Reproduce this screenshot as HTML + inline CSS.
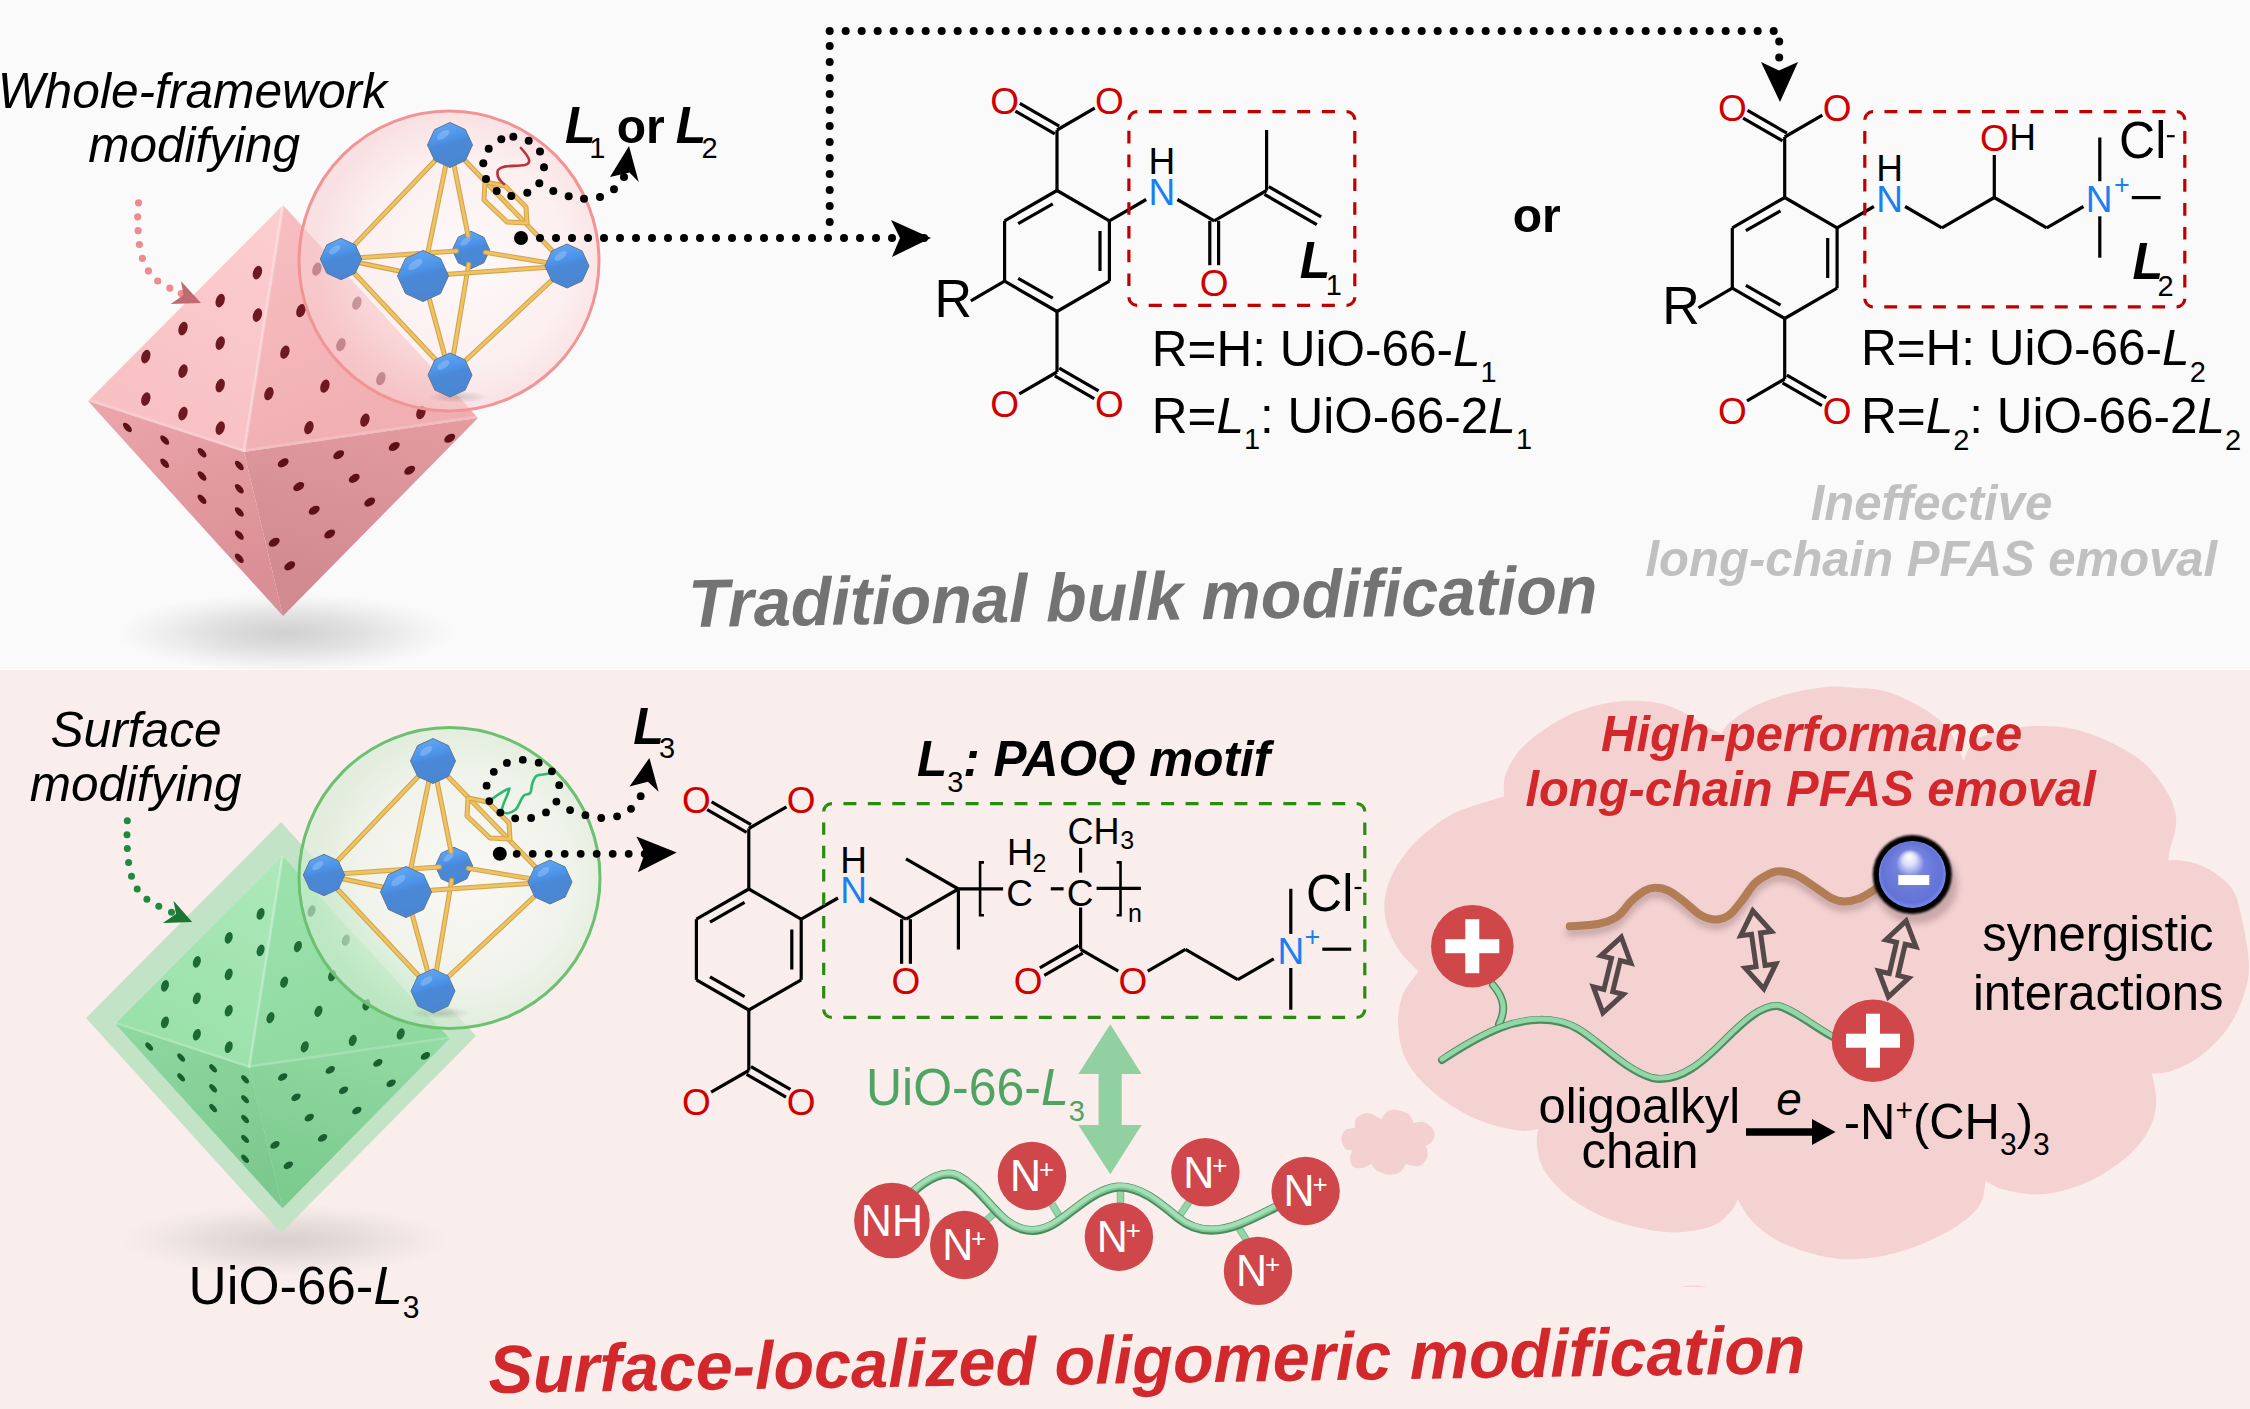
<!DOCTYPE html><html><head><meta charset="utf-8"><style>html,body{margin:0;padding:0;background:#fafafa;overflow:hidden;width:2250px;height:1409px;}svg{display:block;} text{font-family:"Liberation Sans", sans-serif;}</style></head><body>
<svg width="2250" height="1409" viewBox="0 0 2250 1409">
<defs>
<linearGradient id="ball" x1="0" y1="0" x2="0.25" y2="1"><stop offset="0" stop-color="#6aaaf6"/><stop offset="0.45" stop-color="#4b93e8"/><stop offset="0.55" stop-color="#4a89d8"/><stop offset="1" stop-color="#4a86d2"/></linearGradient>
<radialGradient id="shadow" cx="0.5" cy="0.5" r="0.5"><stop offset="0" stop-color="#000" stop-opacity="0.15"/><stop offset="0.6" stop-color="#000" stop-opacity="0.07"/><stop offset="1" stop-color="#000" stop-opacity="0"/></radialGradient>
<radialGradient id="pinkcirc" cx="0.55" cy="0.5" r="0.5"><stop offset="0" stop-color="#fffafa" stop-opacity="0.75"/><stop offset="0.7" stop-color="#fde9ea" stop-opacity="0.62"/><stop offset="1" stop-color="#f8d0d3" stop-opacity="0.6"/></radialGradient>
<radialGradient id="greencirc" cx="0.55" cy="0.5" r="0.5"><stop offset="0" stop-color="#fbfbf8" stop-opacity="0.78"/><stop offset="0.7" stop-color="#ecf6ea" stop-opacity="0.66"/><stop offset="1" stop-color="#d4edd4" stop-opacity="0.62"/></radialGradient>
<radialGradient id="minusball" cx="0.5" cy="0.5" r="0.5" fx="0.45" fy="0.22"><stop offset="0" stop-color="#ffffff"/><stop offset="0.18" stop-color="#dfe3fb"/><stop offset="0.42" stop-color="#7483de"/><stop offset="0.9" stop-color="#6272d6"/><stop offset="1" stop-color="#7a8cf0"/></radialGradient>
<filter id="blur4" x="-20%" y="-50%" width="140%" height="200%"><feGaussianBlur stdDeviation="6"/></filter>
<filter id="blur2" x="-10%" y="-50%" width="120%" height="200%"><feGaussianBlur stdDeviation="3"/></filter>
<filter id="blur1" x="-10%" y="-10%" width="120%" height="120%"><feGaussianBlur stdDeviation="1.2"/></filter>
<linearGradient id="pTLF" x1="0.8" y1="0" x2="0.3" y2="1"><stop offset="0" stop-color="#fccdcf"/><stop offset="1" stop-color="#f7bfc2"/></linearGradient>
<linearGradient id="pTFR" x1="0.2" y1="0" x2="0.6" y2="1"><stop offset="0" stop-color="#f7bec1"/><stop offset="1" stop-color="#f0adb1"/></linearGradient>
<linearGradient id="pLFB" x1="0" y1="0" x2="0.3" y2="1"><stop offset="0" stop-color="#eca6ab"/><stop offset="1" stop-color="#d98f95"/></linearGradient>
<linearGradient id="pFRB" x1="1" y1="0" x2="0.7" y2="1"><stop offset="0" stop-color="#e49ca1"/><stop offset="1" stop-color="#d08a90"/></linearGradient>
<linearGradient id="gTLF" x1="0.8" y1="0" x2="0.3" y2="1"><stop offset="0" stop-color="#ace8b9"/><stop offset="1" stop-color="#98e0a8"/></linearGradient>
<linearGradient id="gTFR" x1="0.2" y1="0" x2="0.6" y2="1"><stop offset="0" stop-color="#9de2ad"/><stop offset="1" stop-color="#8ed9a0"/></linearGradient>
<linearGradient id="gLFB" x1="0" y1="0" x2="0.3" y2="1"><stop offset="0" stop-color="#8fd9a1"/><stop offset="1" stop-color="#7cc98f"/></linearGradient>
<linearGradient id="gFRB" x1="1" y1="0" x2="0.7" y2="1"><stop offset="0" stop-color="#94dba5"/><stop offset="1" stop-color="#7ccb8f"/></linearGradient>
<radialGradient id="shadow2" cx="0.5" cy="0.5" r="0.5"><stop offset="0" stop-color="#000" stop-opacity="0.17"/><stop offset="0.45" stop-color="#000" stop-opacity="0.10"/><stop offset="0.8" stop-color="#000" stop-opacity="0.03"/><stop offset="1" stop-color="#000" stop-opacity="0"/></radialGradient>
</defs>
<rect x="0" y="0" width="2250" height="669" fill="#fafafa"/>
<rect x="0" y="669" width="2250" height="2" fill="#ffffff"/>
<rect x="0" y="670" width="2250" height="739" fill="#f9eeec"/>
<ellipse cx="285" cy="633" rx="170" ry="40" fill="url(#shadow2)"/>
<polygon points="283.0,205.0 88.0,401.0 244.0,452.0" fill="url(#pTLF)" />
<polygon points="283.0,205.0 244.0,452.0 478.0,418.0" fill="url(#pTFR)" />
<polygon points="88.0,401.0 244.0,452.0 283.0,616.0" fill="url(#pLFB)" />
<polygon points="244.0,452.0 478.0,418.0 283.0,616.0" fill="url(#pFRB)" />
<line x1="283.0" y1="205.0" x2="244.0" y2="452.0" stroke="#ffffff" stroke-width="3.0" opacity="0.3"/>
<line x1="88.0" y1="399.5" x2="244.0" y2="450.5" stroke="#ffffff" stroke-width="2.5" opacity="0.18"/>
<line x1="244.0" y1="450.5" x2="478.0" y2="416.5" stroke="#ffffff" stroke-width="2.5" opacity="0.18"/>
<ellipse cx="145.8" cy="356.6" rx="4.4" ry="7.0" fill="#6e1822" transform="rotate(18.0 145.8 356.6)"/>
<ellipse cx="183.0" cy="328.6" rx="4.4" ry="7.0" fill="#6e1822" transform="rotate(18.0 183.0 328.6)"/>
<ellipse cx="220.2" cy="300.6" rx="4.4" ry="7.0" fill="#6e1822" transform="rotate(18.0 220.2 300.6)"/>
<ellipse cx="257.4" cy="272.6" rx="4.4" ry="7.0" fill="#6e1822" transform="rotate(18.0 257.4 272.6)"/>
<ellipse cx="145.8" cy="399.1" rx="4.4" ry="7.0" fill="#6e1822" transform="rotate(18.0 145.8 399.1)"/>
<ellipse cx="183.0" cy="371.1" rx="4.4" ry="7.0" fill="#6e1822" transform="rotate(18.0 183.0 371.1)"/>
<ellipse cx="220.2" cy="343.1" rx="4.4" ry="7.0" fill="#6e1822" transform="rotate(18.0 220.2 343.1)"/>
<ellipse cx="257.4" cy="315.1" rx="4.4" ry="7.0" fill="#6e1822" transform="rotate(18.0 257.4 315.1)"/>
<ellipse cx="183.0" cy="413.6" rx="4.4" ry="7.0" fill="#6e1822" transform="rotate(18.0 183.0 413.6)"/>
<ellipse cx="220.2" cy="385.6" rx="4.4" ry="7.0" fill="#6e1822" transform="rotate(18.0 220.2 385.6)"/>
<ellipse cx="220.2" cy="428.1" rx="4.4" ry="7.0" fill="#6e1822" transform="rotate(18.0 220.2 428.1)"/>
<ellipse cx="316.9" cy="269.2" rx="4.4" ry="6.8" fill="#6e1822" transform="rotate(20.0 316.9 269.2)"/>
<ellipse cx="356.9" cy="303.2" rx="4.4" ry="6.8" fill="#6e1822" transform="rotate(20.0 356.9 303.2)"/>
<ellipse cx="300.9" cy="310.7" rx="4.4" ry="6.8" fill="#6e1822" transform="rotate(20.0 300.9 310.7)"/>
<ellipse cx="340.9" cy="344.7" rx="4.4" ry="6.8" fill="#6e1822" transform="rotate(20.0 340.9 344.7)"/>
<ellipse cx="380.9" cy="378.7" rx="4.4" ry="6.8" fill="#6e1822" transform="rotate(20.0 380.9 378.7)"/>
<ellipse cx="420.9" cy="412.7" rx="4.4" ry="6.8" fill="#6e1822" transform="rotate(20.0 420.9 412.7)"/>
<ellipse cx="284.9" cy="352.2" rx="4.4" ry="6.8" fill="#6e1822" transform="rotate(20.0 284.9 352.2)"/>
<ellipse cx="324.9" cy="386.2" rx="4.4" ry="6.8" fill="#6e1822" transform="rotate(20.0 324.9 386.2)"/>
<ellipse cx="364.9" cy="420.2" rx="4.4" ry="6.8" fill="#6e1822" transform="rotate(20.0 364.9 420.2)"/>
<ellipse cx="268.9" cy="393.7" rx="4.4" ry="6.8" fill="#6e1822" transform="rotate(20.0 268.9 393.7)"/>
<ellipse cx="308.9" cy="427.7" rx="4.4" ry="6.8" fill="#6e1822" transform="rotate(20.0 308.9 427.7)"/>
<ellipse cx="127.4" cy="427.4" rx="5.8" ry="3.0" fill="#5e1019" transform="rotate(48.0 127.4 427.4)"/>
<ellipse cx="164.7" cy="440.1" rx="5.8" ry="3.0" fill="#5e1019" transform="rotate(48.0 164.7 440.1)"/>
<ellipse cx="202.0" cy="452.8" rx="5.8" ry="3.0" fill="#5e1019" transform="rotate(48.0 202.0 452.8)"/>
<ellipse cx="239.3" cy="465.5" rx="5.8" ry="3.0" fill="#5e1019" transform="rotate(48.0 239.3 465.5)"/>
<ellipse cx="164.7" cy="463.3" rx="5.8" ry="3.0" fill="#5e1019" transform="rotate(48.0 164.7 463.3)"/>
<ellipse cx="202.0" cy="476.0" rx="5.8" ry="3.0" fill="#5e1019" transform="rotate(48.0 202.0 476.0)"/>
<ellipse cx="239.3" cy="488.7" rx="5.8" ry="3.0" fill="#5e1019" transform="rotate(48.0 239.3 488.7)"/>
<ellipse cx="202.0" cy="499.2" rx="5.8" ry="3.0" fill="#5e1019" transform="rotate(48.0 202.0 499.2)"/>
<ellipse cx="239.3" cy="511.9" rx="5.8" ry="3.0" fill="#5e1019" transform="rotate(48.0 239.3 511.9)"/>
<ellipse cx="239.3" cy="535.1" rx="5.8" ry="3.0" fill="#5e1019" transform="rotate(48.0 239.3 535.1)"/>
<ellipse cx="239.3" cy="558.3" rx="5.8" ry="3.0" fill="#5e1019" transform="rotate(48.0 239.3 558.3)"/>
<ellipse cx="283.2" cy="462.9" rx="6.0" ry="3.8" fill="#5e1019" transform="rotate(-32.0 283.2 462.9)"/>
<ellipse cx="338.7" cy="454.7" rx="6.0" ry="3.8" fill="#5e1019" transform="rotate(-32.0 338.7 454.7)"/>
<ellipse cx="394.2" cy="446.5" rx="6.0" ry="3.8" fill="#5e1019" transform="rotate(-32.0 394.2 446.5)"/>
<ellipse cx="449.7" cy="438.3" rx="6.0" ry="3.8" fill="#5e1019" transform="rotate(-32.0 449.7 438.3)"/>
<ellipse cx="298.7" cy="486.6" rx="6.0" ry="3.8" fill="#5e1019" transform="rotate(-32.0 298.7 486.6)"/>
<ellipse cx="354.2" cy="478.4" rx="6.0" ry="3.8" fill="#5e1019" transform="rotate(-32.0 354.2 478.4)"/>
<ellipse cx="409.7" cy="470.2" rx="6.0" ry="3.8" fill="#5e1019" transform="rotate(-32.0 409.7 470.2)"/>
<ellipse cx="314.2" cy="510.3" rx="6.0" ry="3.8" fill="#5e1019" transform="rotate(-32.0 314.2 510.3)"/>
<ellipse cx="369.7" cy="502.1" rx="6.0" ry="3.8" fill="#5e1019" transform="rotate(-32.0 369.7 502.1)"/>
<ellipse cx="274.2" cy="542.2" rx="6.0" ry="3.8" fill="#5e1019" transform="rotate(-32.0 274.2 542.2)"/>
<ellipse cx="329.7" cy="534.0" rx="6.0" ry="3.8" fill="#5e1019" transform="rotate(-32.0 329.7 534.0)"/>
<ellipse cx="289.7" cy="565.9" rx="6.0" ry="3.8" fill="#5e1019" transform="rotate(-32.0 289.7 565.9)"/>
<circle cx="138.5" cy="202.8" r="3.6" fill="#ef8a90" />
<circle cx="137.7" cy="216.8" r="3.6" fill="#ef8a90" />
<circle cx="138.1" cy="230.7" r="3.6" fill="#ef8a90" />
<circle cx="139.4" cy="244.5" r="3.6" fill="#ef8a90" />
<circle cx="142.4" cy="258.3" r="3.6" fill="#ef8a90" />
<circle cx="148.4" cy="270.9" r="3.6" fill="#ef8a90" />
<circle cx="157.7" cy="281.0" r="3.6" fill="#ef8a90" />
<circle cx="169.8" cy="288.1" r="3.6" fill="#ef8a90" />
<circle cx="181.3" cy="293.5" r="3.6" fill="#ef8a90" />
<polygon points="200.9,302.9 180.9,281.1 183.5,295.0 170.7,304.1" fill="#c06a72" />
<circle cx="449.0" cy="261.0" r="150.0" fill="url(#pinkcirc)" stroke="#f29496" stroke-width="3"/>
<ellipse cx="458.0" cy="397.0" rx="30" ry="6" fill="url(#shadow)"/>
<polygon points="489.7,250.0 483.8,262.8 471.0,268.7 458.2,262.8 452.3,250.0 458.2,237.2 471.0,231.3 483.8,237.2" fill="url(#ball)" stroke="#5d7896" stroke-width="1"/>
<ellipse cx="465.4" cy="241.6" rx="6.0" ry="2.8" fill="#bfe0ff" opacity="0.3" transform="rotate(-35 465.4 241.6)"/>
<line x1="450.0" y1="145.0" x2="468.1" y2="235.7" stroke="#d2a54c" stroke-width="5.0" stroke-linecap="round"/>
<line x1="450.0" y1="145.0" x2="468.1" y2="235.7" stroke="#efc263" stroke-width="2.8" stroke-linecap="round"/>
<line x1="341.0" y1="259.0" x2="456.4" y2="251.0" stroke="#d2a54c" stroke-width="5.0" stroke-linecap="round"/>
<line x1="341.0" y1="259.0" x2="456.4" y2="251.0" stroke="#efc263" stroke-width="2.8" stroke-linecap="round"/>
<line x1="485.4" y1="252.4" x2="567.0" y2="266.0" stroke="#d2a54c" stroke-width="5.0" stroke-linecap="round"/>
<line x1="485.4" y1="252.4" x2="567.0" y2="266.0" stroke="#efc263" stroke-width="2.8" stroke-linecap="round"/>
<line x1="450.0" y1="375.0" x2="468.6" y2="264.4" stroke="#d2a54c" stroke-width="5.0" stroke-linecap="round"/>
<line x1="450.0" y1="375.0" x2="468.6" y2="264.4" stroke="#efc263" stroke-width="2.8" stroke-linecap="round"/>
<line x1="450.0" y1="145.0" x2="341.0" y2="259.0" stroke="#d2a54c" stroke-width="5.0" stroke-linecap="round"/>
<line x1="450.0" y1="145.0" x2="341.0" y2="259.0" stroke="#efc263" stroke-width="2.8" stroke-linecap="round"/>
<line x1="450.0" y1="145.0" x2="423.0" y2="276.0" stroke="#d2a54c" stroke-width="5.0" stroke-linecap="round"/>
<line x1="450.0" y1="145.0" x2="423.0" y2="276.0" stroke="#efc263" stroke-width="2.8" stroke-linecap="round"/>
<line x1="450.0" y1="145.0" x2="567.0" y2="266.0" stroke="#d2a54c" stroke-width="5.0" stroke-linecap="round"/>
<line x1="450.0" y1="145.0" x2="567.0" y2="266.0" stroke="#efc263" stroke-width="2.8" stroke-linecap="round"/>
<line x1="341.0" y1="259.0" x2="423.0" y2="276.0" stroke="#d2a54c" stroke-width="5.0" stroke-linecap="round"/>
<line x1="341.0" y1="259.0" x2="423.0" y2="276.0" stroke="#efc263" stroke-width="2.8" stroke-linecap="round"/>
<line x1="423.0" y1="276.0" x2="567.0" y2="266.0" stroke="#d2a54c" stroke-width="5.0" stroke-linecap="round"/>
<line x1="423.0" y1="276.0" x2="567.0" y2="266.0" stroke="#efc263" stroke-width="2.8" stroke-linecap="round"/>
<line x1="450.0" y1="375.0" x2="341.0" y2="259.0" stroke="#d2a54c" stroke-width="5.0" stroke-linecap="round"/>
<line x1="450.0" y1="375.0" x2="341.0" y2="259.0" stroke="#efc263" stroke-width="2.8" stroke-linecap="round"/>
<line x1="450.0" y1="375.0" x2="423.0" y2="276.0" stroke="#d2a54c" stroke-width="5.0" stroke-linecap="round"/>
<line x1="450.0" y1="375.0" x2="423.0" y2="276.0" stroke="#efc263" stroke-width="2.8" stroke-linecap="round"/>
<line x1="450.0" y1="375.0" x2="567.0" y2="266.0" stroke="#d2a54c" stroke-width="5.0" stroke-linecap="round"/>
<line x1="450.0" y1="375.0" x2="567.0" y2="266.0" stroke="#efc263" stroke-width="2.8" stroke-linecap="round"/>
<path d="M485.0,182.0 L505.0,186.0 L526.0,207.0 L527.0,223.0 L507.0,222.0 L484.0,200.0 Z" fill="none" stroke="#d2a54c" stroke-width="5.0" stroke-linejoin="round"/>
<path d="M485.0,182.0 L505.0,186.0 L526.0,207.0 L527.0,223.0 L507.0,222.0 L484.0,200.0 Z" fill="none" stroke="#efc263" stroke-width="2.8" stroke-linejoin="round"/>
<polygon points="361.7,259.0 355.2,273.2 341.0,279.7 326.8,273.2 320.3,259.0 326.8,244.8 341.0,238.3 355.2,244.8" fill="url(#ball)" stroke="#5d7896" stroke-width="1"/>
<ellipse cx="334.8" cy="249.7" rx="6.6" ry="3.1" fill="#bfe0ff" opacity="0.3" transform="rotate(-35 334.8 249.7)"/>
<polygon points="472.5,145.0 465.4,160.4 450.0,167.5 434.6,160.4 427.5,145.0 434.6,129.6 450.0,122.5 465.4,129.6" fill="url(#ball)" stroke="#5d7896" stroke-width="1"/>
<ellipse cx="443.2" cy="134.9" rx="7.2" ry="3.4" fill="#bfe0ff" opacity="0.3" transform="rotate(-35 443.2 134.9)"/>
<polygon points="589.0,266.0 582.1,281.1 567.0,288.0 551.9,281.1 545.0,266.0 551.9,250.9 567.0,244.0 582.1,250.9" fill="url(#ball)" stroke="#5d7896" stroke-width="1"/>
<ellipse cx="560.4" cy="256.1" rx="7.0" ry="3.3" fill="#bfe0ff" opacity="0.3" transform="rotate(-35 560.4 256.1)"/>
<polygon points="472.0,375.0 465.1,390.1 450.0,397.0 434.9,390.1 428.0,375.0 434.9,359.9 450.0,353.0 465.1,359.9" fill="url(#ball)" stroke="#5d7896" stroke-width="1"/>
<ellipse cx="443.4" cy="365.1" rx="7.0" ry="3.3" fill="#bfe0ff" opacity="0.3" transform="rotate(-35 443.4 365.1)"/>
<polygon points="448.5,276.0 440.5,293.5 423.0,301.5 405.5,293.5 397.5,276.0 405.5,258.5 423.0,250.5 440.5,258.5" fill="url(#ball)" stroke="#5d7896" stroke-width="1"/>
<ellipse cx="415.4" cy="264.5" rx="8.2" ry="3.8" fill="#bfe0ff" opacity="0.3" transform="rotate(-35 415.4 264.5)"/>
<path d="M520.9,148 C530,158 532,163 525,165 C515,167 503,164 498,170 C496,176 500,181 504,184" fill="none" stroke="#b8343c" stroke-width="2.6" stroke-linecap="round"/>
<circle cx="501.3" cy="139.3" r="4.0" fill="#000" />
<circle cx="513.3" cy="136.7" r="4.0" fill="#000" />
<circle cx="528.7" cy="140.7" r="4.0" fill="#000" />
<circle cx="540.0" cy="151.6" r="4.0" fill="#000" />
<circle cx="544.0" cy="167.3" r="4.0" fill="#000" />
<circle cx="539.3" cy="183.3" r="4.0" fill="#000" />
<circle cx="527.3" cy="192.7" r="4.0" fill="#000" />
<circle cx="511.3" cy="196.0" r="4.0" fill="#000" />
<circle cx="496.7" cy="190.9" r="4.0" fill="#000" />
<circle cx="486.0" cy="179.1" r="4.0" fill="#000" />
<circle cx="483.3" cy="163.3" r="4.0" fill="#000" />
<circle cx="488.7" cy="148.7" r="4.0" fill="#000" />
<circle cx="553.3" cy="190.9" r="4.0" fill="#000" />
<circle cx="568.7" cy="196.3" r="4.0" fill="#000" />
<circle cx="584.0" cy="198.7" r="4.0" fill="#000" />
<circle cx="600.0" cy="197.0" r="4.0" fill="#000" />
<circle cx="614.0" cy="189.3" r="4.0" fill="#000" />
<circle cx="624.0" cy="177.0" r="4.0" fill="#000" />
<polygon points="629.0,146.0 638.7,182.0 629.5,172.5 610.0,177.0" fill="#000" />
<circle cx="521.0" cy="238.0" r="7.0" fill="#000" />
<circle cx="540.0" cy="238.0" r="4.0" fill="#000" />
<circle cx="556.0" cy="238.0" r="4.0" fill="#000" />
<circle cx="572.0" cy="238.0" r="4.0" fill="#000" />
<circle cx="588.0" cy="238.0" r="4.0" fill="#000" />
<circle cx="604.0" cy="238.0" r="4.0" fill="#000" />
<circle cx="620.0" cy="238.0" r="4.0" fill="#000" />
<circle cx="636.0" cy="238.0" r="4.0" fill="#000" />
<circle cx="652.0" cy="238.0" r="4.0" fill="#000" />
<circle cx="668.0" cy="238.0" r="4.0" fill="#000" />
<circle cx="684.0" cy="238.0" r="4.0" fill="#000" />
<circle cx="700.0" cy="238.0" r="4.0" fill="#000" />
<circle cx="716.0" cy="238.0" r="4.0" fill="#000" />
<circle cx="732.0" cy="238.0" r="4.0" fill="#000" />
<circle cx="748.0" cy="238.0" r="4.0" fill="#000" />
<circle cx="764.0" cy="238.0" r="4.0" fill="#000" />
<circle cx="780.0" cy="238.0" r="4.0" fill="#000" />
<circle cx="796.0" cy="238.0" r="4.0" fill="#000" />
<circle cx="812.0" cy="238.0" r="4.0" fill="#000" />
<circle cx="828.0" cy="238.0" r="4.0" fill="#000" />
<circle cx="844.0" cy="238.0" r="4.0" fill="#000" />
<circle cx="860.0" cy="238.0" r="4.0" fill="#000" />
<circle cx="876.0" cy="238.0" r="4.0" fill="#000" />
<circle cx="892.0" cy="238.0" r="4.0" fill="#000" />
<circle cx="908.0" cy="238.0" r="4.0" fill="#000" />
<circle cx="924.0" cy="238.0" r="4.0" fill="#000" />
<circle cx="829.7" cy="222.0" r="4.0" fill="#000" />
<circle cx="829.7" cy="206.0" r="4.0" fill="#000" />
<circle cx="829.7" cy="190.0" r="4.0" fill="#000" />
<circle cx="829.7" cy="174.0" r="4.0" fill="#000" />
<circle cx="829.7" cy="158.0" r="4.0" fill="#000" />
<circle cx="829.7" cy="142.0" r="4.0" fill="#000" />
<circle cx="829.7" cy="126.0" r="4.0" fill="#000" />
<circle cx="829.7" cy="110.0" r="4.0" fill="#000" />
<circle cx="829.7" cy="94.0" r="4.0" fill="#000" />
<circle cx="829.7" cy="78.0" r="4.0" fill="#000" />
<circle cx="829.7" cy="62.0" r="4.0" fill="#000" />
<circle cx="829.7" cy="46.0" r="4.0" fill="#000" />
<circle cx="829.7" cy="31.0" r="4.0" fill="#000" />
<circle cx="845.7" cy="31.0" r="4.0" fill="#000" />
<circle cx="861.7" cy="31.0" r="4.0" fill="#000" />
<circle cx="877.7" cy="31.0" r="4.0" fill="#000" />
<circle cx="893.7" cy="31.0" r="4.0" fill="#000" />
<circle cx="909.7" cy="31.0" r="4.0" fill="#000" />
<circle cx="925.7" cy="31.0" r="4.0" fill="#000" />
<circle cx="941.7" cy="31.0" r="4.0" fill="#000" />
<circle cx="957.7" cy="31.0" r="4.0" fill="#000" />
<circle cx="973.7" cy="31.0" r="4.0" fill="#000" />
<circle cx="989.7" cy="31.0" r="4.0" fill="#000" />
<circle cx="1005.7" cy="31.0" r="4.0" fill="#000" />
<circle cx="1021.7" cy="31.0" r="4.0" fill="#000" />
<circle cx="1037.7" cy="31.0" r="4.0" fill="#000" />
<circle cx="1053.7" cy="31.0" r="4.0" fill="#000" />
<circle cx="1069.7" cy="31.0" r="4.0" fill="#000" />
<circle cx="1085.7" cy="31.0" r="4.0" fill="#000" />
<circle cx="1101.7" cy="31.0" r="4.0" fill="#000" />
<circle cx="1117.7" cy="31.0" r="4.0" fill="#000" />
<circle cx="1133.7" cy="31.0" r="4.0" fill="#000" />
<circle cx="1149.7" cy="31.0" r="4.0" fill="#000" />
<circle cx="1165.7" cy="31.0" r="4.0" fill="#000" />
<circle cx="1181.7" cy="31.0" r="4.0" fill="#000" />
<circle cx="1197.7" cy="31.0" r="4.0" fill="#000" />
<circle cx="1213.7" cy="31.0" r="4.0" fill="#000" />
<circle cx="1229.7" cy="31.0" r="4.0" fill="#000" />
<circle cx="1245.7" cy="31.0" r="4.0" fill="#000" />
<circle cx="1261.7" cy="31.0" r="4.0" fill="#000" />
<circle cx="1277.7" cy="31.0" r="4.0" fill="#000" />
<circle cx="1293.7" cy="31.0" r="4.0" fill="#000" />
<circle cx="1309.7" cy="31.0" r="4.0" fill="#000" />
<circle cx="1325.7" cy="31.0" r="4.0" fill="#000" />
<circle cx="1341.7" cy="31.0" r="4.0" fill="#000" />
<circle cx="1357.7" cy="31.0" r="4.0" fill="#000" />
<circle cx="1373.7" cy="31.0" r="4.0" fill="#000" />
<circle cx="1389.7" cy="31.0" r="4.0" fill="#000" />
<circle cx="1405.7" cy="31.0" r="4.0" fill="#000" />
<circle cx="1421.7" cy="31.0" r="4.0" fill="#000" />
<circle cx="1437.7" cy="31.0" r="4.0" fill="#000" />
<circle cx="1453.7" cy="31.0" r="4.0" fill="#000" />
<circle cx="1469.7" cy="31.0" r="4.0" fill="#000" />
<circle cx="1485.7" cy="31.0" r="4.0" fill="#000" />
<circle cx="1501.7" cy="31.0" r="4.0" fill="#000" />
<circle cx="1517.7" cy="31.0" r="4.0" fill="#000" />
<circle cx="1533.7" cy="31.0" r="4.0" fill="#000" />
<circle cx="1549.7" cy="31.0" r="4.0" fill="#000" />
<circle cx="1565.7" cy="31.0" r="4.0" fill="#000" />
<circle cx="1581.7" cy="31.0" r="4.0" fill="#000" />
<circle cx="1597.7" cy="31.0" r="4.0" fill="#000" />
<circle cx="1613.7" cy="31.0" r="4.0" fill="#000" />
<circle cx="1629.7" cy="31.0" r="4.0" fill="#000" />
<circle cx="1645.7" cy="31.0" r="4.0" fill="#000" />
<circle cx="1661.7" cy="31.0" r="4.0" fill="#000" />
<circle cx="1677.7" cy="31.0" r="4.0" fill="#000" />
<circle cx="1693.7" cy="31.0" r="4.0" fill="#000" />
<circle cx="1709.7" cy="31.0" r="4.0" fill="#000" />
<circle cx="1725.7" cy="31.0" r="4.0" fill="#000" />
<circle cx="1741.7" cy="31.0" r="4.0" fill="#000" />
<circle cx="1757.7" cy="31.0" r="4.0" fill="#000" />
<circle cx="1773.7" cy="31.0" r="4.0" fill="#000" />
<circle cx="1779.2" cy="41.5" r="4.0" fill="#000" />
<circle cx="1779.2" cy="57.5" r="4.0" fill="#000" />
<polygon points="1780.0,102.0 1798.0,62.0 1779.0,70.5 1761.0,62.0" fill="#000" />
<polygon points="931.0,238.0 891.0,220.0 900.0,238.0 892.0,257.0" fill="#000" />
<text transform="matrix(1 0 0 1.020 0 -2.16)" x="-2.3" y="108.0" font-size="49.7" font-weight="normal" font-style="italic" fill="#000" text-anchor="start" >Whole-framework</text>
<text transform="matrix(1 0 0 1.020 0 -3.24)" x="88.2" y="162.0" font-size="49.5" font-weight="normal" font-style="italic" fill="#000" text-anchor="start" >modifying</text>
<text transform="matrix(1 0 0 1.020 0 -2.85)" x="565.1" y="142.7" font-size="50.0" font-weight="bold" font-style="italic" fill="#000" text-anchor="start" >L</text>
<text transform="matrix(1 0 0 1.020 0 -3.15)" x="589.3" y="157.7" font-size="29.0" font-weight="normal" font-style="normal" fill="#000" text-anchor="start" >1</text>
<text transform="matrix(1 0 0 1.020 0 -2.85)" x="616.8" y="142.7" font-size="48.0" font-weight="bold" font-style="normal" fill="#000" text-anchor="start" >or</text>
<text transform="matrix(1 0 0 1.020 0 -2.85)" x="675.8" y="142.7" font-size="50.0" font-weight="bold" font-style="italic" fill="#000" text-anchor="start" >L</text>
<text transform="matrix(1 0 0 1.020 0 -3.15)" x="701.5" y="157.7" font-size="29.0" font-weight="normal" font-style="normal" fill="#000" text-anchor="start" >2</text>
<line x1="1057.0" y1="190.5" x2="1004.6" y2="220.8" stroke="#000" stroke-width="3.2" />
<line x1="1052.8" y1="203.8" x2="1018.2" y2="223.7" stroke="#000" stroke-width="3.2" />
<line x1="1057.0" y1="190.5" x2="1109.4" y2="220.8" stroke="#000" stroke-width="3.2" />
<line x1="1109.4" y1="220.8" x2="1109.4" y2="281.2" stroke="#000" stroke-width="3.2" />
<line x1="1100.0" y1="231.0" x2="1100.0" y2="271.0" stroke="#000" stroke-width="3.2" />
<line x1="1109.4" y1="281.2" x2="1057.0" y2="311.5" stroke="#000" stroke-width="3.2" />
<line x1="1057.0" y1="311.5" x2="1004.6" y2="281.2" stroke="#000" stroke-width="3.2" />
<line x1="1052.8" y1="298.2" x2="1018.2" y2="278.3" stroke="#000" stroke-width="3.2" />
<line x1="1004.6" y1="281.2" x2="1004.6" y2="220.8" stroke="#000" stroke-width="3.2" />
<line x1="1057.0" y1="190.5" x2="1057.0" y2="130.0" stroke="#000" stroke-width="3.2" />
<line x1="1054.8" y1="133.8" x2="1015.4" y2="111.1" stroke="#000" stroke-width="3.2" />
<line x1="1059.2" y1="126.2" x2="1019.8" y2="103.4" stroke="#000" stroke-width="3.2" />
<line x1="1057.0" y1="130.0" x2="1094.7" y2="108.2" stroke="#000" stroke-width="3.2" />
<text transform="matrix(1 0 0 1.020 0 -2.28)" x="1004.6" y="114.1" font-size="37.0" font-weight="normal" font-style="normal" fill="#d00000" text-anchor="middle" >O</text>
<text transform="matrix(1 0 0 1.020 0 -2.28)" x="1109.4" y="114.1" font-size="37.0" font-weight="normal" font-style="normal" fill="#d00000" text-anchor="middle" >O</text>
<line x1="1057.0" y1="311.5" x2="1057.0" y2="372.0" stroke="#000" stroke-width="3.2" />
<line x1="1057.0" y1="372.0" x2="1019.3" y2="393.8" stroke="#000" stroke-width="3.2" />
<line x1="1059.2" y1="368.2" x2="1098.6" y2="390.9" stroke="#000" stroke-width="3.2" />
<line x1="1054.8" y1="375.8" x2="1094.2" y2="398.6" stroke="#000" stroke-width="3.2" />
<text transform="matrix(1 0 0 1.020 0 -8.33)" x="1004.6" y="416.6" font-size="37.0" font-weight="normal" font-style="normal" fill="#d00000" text-anchor="middle" >O</text>
<text transform="matrix(1 0 0 1.020 0 -8.33)" x="1109.4" y="416.6" font-size="37.0" font-weight="normal" font-style="normal" fill="#d00000" text-anchor="middle" >O</text>
<line x1="1004.6" y1="281.2" x2="970.8" y2="300.8" stroke="#000" stroke-width="3.2" />
<text transform="matrix(1 0 0 1.020 0 -6.33)" x="934.6" y="316.7" font-size="52.0" font-weight="normal" font-style="normal" fill="#000" text-anchor="start" >R</text>
<line x1="1109.4" y1="220.8" x2="1146.2" y2="199.5" stroke="#000" stroke-width="3.2" />
<text transform="matrix(1 0 0 1.020 0 -4.10)" x="1161.8" y="204.8" font-size="37.0" font-weight="normal" font-style="normal" fill="#1a80f0" text-anchor="middle" >N</text>
<text transform="matrix(1 0 0 1.020 0 -3.49)" x="1161.8" y="174.3" font-size="37.0" font-weight="normal" font-style="normal" fill="#000" text-anchor="middle" >H</text>
<line x1="1177.4" y1="199.5" x2="1214.2" y2="220.8" stroke="#000" stroke-width="3.2" />
<line x1="1218.6" y1="220.8" x2="1218.6" y2="265.2" stroke="#000" stroke-width="3.2" />
<line x1="1209.8" y1="220.8" x2="1209.8" y2="265.2" stroke="#000" stroke-width="3.2" />
<text transform="matrix(1 0 0 1.020 0 -5.91)" x="1214.2" y="295.6" font-size="37.0" font-weight="normal" font-style="normal" fill="#d00000" text-anchor="middle" >O</text>
<line x1="1214.2" y1="220.8" x2="1266.6" y2="190.5" stroke="#000" stroke-width="3.2" />
<line x1="1266.6" y1="190.5" x2="1266.6" y2="130.0" stroke="#000" stroke-width="3.2" />
<line x1="1268.8" y1="186.7" x2="1321.2" y2="216.9" stroke="#000" stroke-width="3.2" />
<line x1="1264.4" y1="194.3" x2="1316.8" y2="224.6" stroke="#000" stroke-width="3.2" />
<path d="M1131.24,114.04 A8.0,8.0 0 0 1 1136.90,111.70 L1346.80,111.70 A8.0,8.0 0 0 1 1352.46,114.04" fill="none" stroke="#c00000" stroke-width="3.2" stroke-dasharray="13.10 11.62" stroke-dashoffset="6.55"/>
<path d="M1352.46,114.04 A8.0,8.0 0 0 1 1354.80,119.70 L1354.80,297.30 A8.0,8.0 0 0 1 1352.46,302.96" fill="none" stroke="#c00000" stroke-width="3.2" stroke-dasharray="12.60 11.17" stroke-dashoffset="6.30"/>
<path d="M1352.46,302.96 A8.0,8.0 0 0 1 1346.80,305.30 L1136.90,305.30 A8.0,8.0 0 0 1 1131.24,302.96" fill="none" stroke="#c00000" stroke-width="3.2" stroke-dasharray="13.10 11.62" stroke-dashoffset="6.55"/>
<path d="M1131.24,302.96 A8.0,8.0 0 0 1 1128.90,297.30 L1128.90,119.70 A8.0,8.0 0 0 1 1131.24,114.04" fill="none" stroke="#c00000" stroke-width="3.2" stroke-dasharray="12.60 11.17" stroke-dashoffset="6.30"/>
<text transform="matrix(1 0 0 1.020 0 -5.56)" x="1299.7" y="278.0" font-size="50.0" font-weight="bold" font-style="italic" fill="#000" text-anchor="start" >L</text>
<text transform="matrix(1 0 0 1.020 0 -5.90)" x="1325.8" y="295.2" font-size="29.0" font-weight="normal" font-style="normal" fill="#000" text-anchor="start" >1</text>
<text transform="matrix(1 0 0 1.020 0 -4.63)" x="1512.8" y="231.7" font-size="48.0" font-weight="bold" font-style="normal" fill="#000" text-anchor="start" >or</text>
<text transform="matrix(1 0 0 1.020 0 -7.31)" x="1151.8" y="365.7" font-size="49.5" fill="#000">R=H: UiO-66-<tspan font-style="italic">L</tspan><tspan font-size="29" dy="16">1</tspan></text>
<text transform="matrix(1 0 0 1.020 0 -8.66)" x="1151.8" y="432.9" font-size="49.5" fill="#000">R=<tspan font-style="italic">L</tspan><tspan font-size="29" dy="16">1</tspan><tspan dy="-16">: UiO-66-2</tspan><tspan font-style="italic">L</tspan><tspan font-size="29" dy="16">1</tspan></text>
<line x1="1784.7" y1="197.5" x2="1732.3" y2="227.8" stroke="#000" stroke-width="3.2" />
<line x1="1780.5" y1="210.8" x2="1745.9" y2="230.7" stroke="#000" stroke-width="3.2" />
<line x1="1784.7" y1="197.5" x2="1837.1" y2="227.8" stroke="#000" stroke-width="3.2" />
<line x1="1837.1" y1="227.8" x2="1837.1" y2="288.2" stroke="#000" stroke-width="3.2" />
<line x1="1827.7" y1="238.0" x2="1827.7" y2="278.0" stroke="#000" stroke-width="3.2" />
<line x1="1837.1" y1="288.2" x2="1784.7" y2="318.5" stroke="#000" stroke-width="3.2" />
<line x1="1784.7" y1="318.5" x2="1732.3" y2="288.2" stroke="#000" stroke-width="3.2" />
<line x1="1780.5" y1="305.2" x2="1745.9" y2="285.3" stroke="#000" stroke-width="3.2" />
<line x1="1732.3" y1="288.2" x2="1732.3" y2="227.8" stroke="#000" stroke-width="3.2" />
<line x1="1784.7" y1="197.5" x2="1784.7" y2="137.0" stroke="#000" stroke-width="3.2" />
<line x1="1782.5" y1="140.8" x2="1743.1" y2="118.1" stroke="#000" stroke-width="3.2" />
<line x1="1786.9" y1="133.2" x2="1747.5" y2="110.4" stroke="#000" stroke-width="3.2" />
<line x1="1784.7" y1="137.0" x2="1822.4" y2="115.2" stroke="#000" stroke-width="3.2" />
<text transform="matrix(1 0 0 1.020 0 -2.42)" x="1732.3" y="121.1" font-size="37.0" font-weight="normal" font-style="normal" fill="#d00000" text-anchor="middle" >O</text>
<text transform="matrix(1 0 0 1.020 0 -2.42)" x="1837.1" y="121.1" font-size="37.0" font-weight="normal" font-style="normal" fill="#d00000" text-anchor="middle" >O</text>
<line x1="1784.7" y1="318.5" x2="1784.7" y2="379.0" stroke="#000" stroke-width="3.2" />
<line x1="1784.7" y1="379.0" x2="1747.0" y2="400.8" stroke="#000" stroke-width="3.2" />
<line x1="1786.9" y1="375.2" x2="1826.3" y2="397.9" stroke="#000" stroke-width="3.2" />
<line x1="1782.5" y1="382.8" x2="1821.9" y2="405.6" stroke="#000" stroke-width="3.2" />
<text transform="matrix(1 0 0 1.020 0 -8.47)" x="1732.3" y="423.6" font-size="37.0" font-weight="normal" font-style="normal" fill="#d00000" text-anchor="middle" >O</text>
<text transform="matrix(1 0 0 1.020 0 -8.47)" x="1837.1" y="423.6" font-size="37.0" font-weight="normal" font-style="normal" fill="#d00000" text-anchor="middle" >O</text>
<line x1="1732.3" y1="288.2" x2="1698.5" y2="307.8" stroke="#000" stroke-width="3.2" />
<text transform="matrix(1 0 0 1.020 0 -6.47)" x="1662.3" y="323.7" font-size="52.0" font-weight="normal" font-style="normal" fill="#000" text-anchor="start" >R</text>
<line x1="1837.1" y1="227.8" x2="1873.9" y2="206.5" stroke="#000" stroke-width="3.2" />
<text transform="matrix(1 0 0 1.020 0 -4.24)" x="1889.5" y="211.8" font-size="37.0" font-weight="normal" font-style="normal" fill="#1a80f0" text-anchor="middle" >N</text>
<text transform="matrix(1 0 0 1.020 0 -3.63)" x="1889.5" y="181.3" font-size="37.0" font-weight="normal" font-style="normal" fill="#000" text-anchor="middle" >H</text>
<line x1="1905.1" y1="206.5" x2="1941.9" y2="227.8" stroke="#000" stroke-width="3.2" />
<line x1="1941.9" y1="227.8" x2="1994.3" y2="197.5" stroke="#000" stroke-width="3.2" />
<line x1="1994.3" y1="197.5" x2="1994.3" y2="155.0" stroke="#000" stroke-width="3.2" />
<text transform="matrix(1 0 0 1.020 0 -3.03)" x="1994.3" y="151.3" font-size="37.0" font-weight="normal" font-style="normal" fill="#d00000" text-anchor="middle" >O</text>
<text transform="matrix(1 0 0 1.020 0 -2.99)" x="2009.3" y="149.7" font-size="37.0" font-weight="normal" font-style="normal" fill="#000" text-anchor="start" >H</text>
<line x1="1994.3" y1="197.5" x2="2046.7" y2="227.8" stroke="#000" stroke-width="3.2" />
<line x1="2046.7" y1="227.8" x2="2083.5" y2="206.5" stroke="#000" stroke-width="3.2" />
<text transform="matrix(1 0 0 1.020 0 -4.24)" x="2099.1" y="211.8" font-size="37.0" font-weight="normal" font-style="normal" fill="#1a80f0" text-anchor="middle" >N</text>
<text transform="matrix(1 0 0 1.020 0 -3.87)" x="2114.0" y="193.7" font-size="27.0" font-weight="normal" font-style="normal" fill="#1a80f0" text-anchor="start" >+</text>
<line x1="2099.8" y1="137.5" x2="2099.8" y2="181.2" stroke="#000" stroke-width="3.2" />
<line x1="2099.8" y1="216.3" x2="2099.8" y2="257.7" stroke="#000" stroke-width="3.2" />
<line x1="2131.8" y1="197.6" x2="2160.6" y2="197.6" stroke="#000" stroke-width="3.2" />
<text transform="matrix(1 0 0 1.020 0 -3.17)" x="2119.1" y="158.5" font-size="50.0" font-weight="normal" font-style="normal" fill="#000" text-anchor="start" >Cl</text>
<line x1="2166.9" y1="136.2" x2="2174.7" y2="136.2" stroke="#000" stroke-width="2.2" />
<path d="M1867.14,114.04 A8.0,8.0 0 0 1 1872.80,111.70 L2176.80,111.70 A8.0,8.0 0 0 1 2182.46,114.04" fill="none" stroke="#c00000" stroke-width="3.2" stroke-dasharray="12.91 11.45" stroke-dashoffset="6.45"/>
<path d="M2182.46,114.04 A8.0,8.0 0 0 1 2184.80,119.70 L2184.80,298.80 A8.0,8.0 0 0 1 2182.46,304.46" fill="none" stroke="#c00000" stroke-width="3.2" stroke-dasharray="12.70 11.26" stroke-dashoffset="6.35"/>
<path d="M2182.46,304.46 A8.0,8.0 0 0 1 2176.80,306.80 L1872.80,306.80 A8.0,8.0 0 0 1 1867.14,304.46" fill="none" stroke="#c00000" stroke-width="3.2" stroke-dasharray="12.91 11.45" stroke-dashoffset="6.45"/>
<path d="M1867.14,304.46 A8.0,8.0 0 0 1 1864.80,298.80 L1864.80,119.70 A8.0,8.0 0 0 1 1867.14,114.04" fill="none" stroke="#c00000" stroke-width="3.2" stroke-dasharray="12.70 11.26" stroke-dashoffset="6.35"/>
<text transform="matrix(1 0 0 1.020 0 -5.59)" x="2132.4" y="279.5" font-size="50.0" font-weight="bold" font-style="italic" fill="#000" text-anchor="start" >L</text>
<text transform="matrix(1 0 0 1.020 0 -5.92)" x="2157.5" y="295.9" font-size="29.0" font-weight="normal" font-style="normal" fill="#000" text-anchor="start" >2</text>
<text transform="matrix(1 0 0 1.020 0 -7.31)" x="1861.0" y="365.4" font-size="49.5" fill="#000">R=H: UiO-66-<tspan font-style="italic">L</tspan><tspan font-size="29" dy="16">2</tspan></text>
<text transform="matrix(1 0 0 1.020 0 -8.67)" x="1861.0" y="433.3" font-size="49.5" fill="#000">R=<tspan font-style="italic">L</tspan><tspan font-size="29" dy="16">2</tspan><tspan dy="-16">: UiO-66-2</tspan><tspan font-style="italic">L</tspan><tspan font-size="29" dy="16">2</tspan></text>
<text x="688.5" y="627" font-size="66.65" font-weight="bold" font-style="italic" fill="#737373" transform="rotate(-0.87 688.5 627) matrix(1 0 0 1.020 0 -12.54)">Traditional bulk modification</text>
<text transform="matrix(1 0 0 1.020 0 -10.39)" x="1810.7" y="519.6" font-size="49.0" font-weight="bold" font-style="italic" fill="#c0c0c0" text-anchor="start" >Ineffective</text>
<text transform="matrix(1 0 0 1.020 0 -11.51)" x="1645.5" y="575.7" font-size="49.0" font-weight="bold" font-style="italic" fill="#c0c0c0" text-anchor="start" >long-chain PFAS emoval</text>
<ellipse cx="285" cy="1240" rx="165" ry="36" fill="url(#shadow2)" opacity="0.75"/>
<polygon points="281.0,822.0 86.0,1018.0 281.0,1233.0 476.0,1036.0" fill="#c3e3c7" />
<g transform="translate(40,680.3) scale(0.857)">
<polygon points="283.0,205.0 88.0,401.0 244.0,452.0" fill="url(#gTLF)" />
<polygon points="283.0,205.0 244.0,452.0 478.0,418.0" fill="url(#gTFR)" />
<polygon points="88.0,401.0 244.0,452.0 283.0,616.0" fill="url(#gLFB)" />
<polygon points="244.0,452.0 478.0,418.0 283.0,616.0" fill="url(#gFRB)" />
<line x1="283.0" y1="205.0" x2="244.0" y2="452.0" stroke="#ffffff" stroke-width="3.0" opacity="0.3"/>
<line x1="88.0" y1="399.5" x2="244.0" y2="450.5" stroke="#ffffff" stroke-width="2.5" opacity="0.18"/>
<line x1="244.0" y1="450.5" x2="478.0" y2="416.5" stroke="#ffffff" stroke-width="2.5" opacity="0.18"/>
<ellipse cx="145.8" cy="356.6" rx="4.4" ry="7.0" fill="#1e6a36" transform="rotate(18.0 145.8 356.6)"/>
<ellipse cx="183.0" cy="328.6" rx="4.4" ry="7.0" fill="#1e6a36" transform="rotate(18.0 183.0 328.6)"/>
<ellipse cx="220.2" cy="300.6" rx="4.4" ry="7.0" fill="#1e6a36" transform="rotate(18.0 220.2 300.6)"/>
<ellipse cx="257.4" cy="272.6" rx="4.4" ry="7.0" fill="#1e6a36" transform="rotate(18.0 257.4 272.6)"/>
<ellipse cx="145.8" cy="399.1" rx="4.4" ry="7.0" fill="#1e6a36" transform="rotate(18.0 145.8 399.1)"/>
<ellipse cx="183.0" cy="371.1" rx="4.4" ry="7.0" fill="#1e6a36" transform="rotate(18.0 183.0 371.1)"/>
<ellipse cx="220.2" cy="343.1" rx="4.4" ry="7.0" fill="#1e6a36" transform="rotate(18.0 220.2 343.1)"/>
<ellipse cx="257.4" cy="315.1" rx="4.4" ry="7.0" fill="#1e6a36" transform="rotate(18.0 257.4 315.1)"/>
<ellipse cx="183.0" cy="413.6" rx="4.4" ry="7.0" fill="#1e6a36" transform="rotate(18.0 183.0 413.6)"/>
<ellipse cx="220.2" cy="385.6" rx="4.4" ry="7.0" fill="#1e6a36" transform="rotate(18.0 220.2 385.6)"/>
<ellipse cx="220.2" cy="428.1" rx="4.4" ry="7.0" fill="#1e6a36" transform="rotate(18.0 220.2 428.1)"/>
<ellipse cx="316.9" cy="269.2" rx="4.4" ry="6.8" fill="#1e6a36" transform="rotate(20.0 316.9 269.2)"/>
<ellipse cx="356.9" cy="303.2" rx="4.4" ry="6.8" fill="#1e6a36" transform="rotate(20.0 356.9 303.2)"/>
<ellipse cx="300.9" cy="310.7" rx="4.4" ry="6.8" fill="#1e6a36" transform="rotate(20.0 300.9 310.7)"/>
<ellipse cx="340.9" cy="344.7" rx="4.4" ry="6.8" fill="#1e6a36" transform="rotate(20.0 340.9 344.7)"/>
<ellipse cx="380.9" cy="378.7" rx="4.4" ry="6.8" fill="#1e6a36" transform="rotate(20.0 380.9 378.7)"/>
<ellipse cx="420.9" cy="412.7" rx="4.4" ry="6.8" fill="#1e6a36" transform="rotate(20.0 420.9 412.7)"/>
<ellipse cx="284.9" cy="352.2" rx="4.4" ry="6.8" fill="#1e6a36" transform="rotate(20.0 284.9 352.2)"/>
<ellipse cx="324.9" cy="386.2" rx="4.4" ry="6.8" fill="#1e6a36" transform="rotate(20.0 324.9 386.2)"/>
<ellipse cx="364.9" cy="420.2" rx="4.4" ry="6.8" fill="#1e6a36" transform="rotate(20.0 364.9 420.2)"/>
<ellipse cx="268.9" cy="393.7" rx="4.4" ry="6.8" fill="#1e6a36" transform="rotate(20.0 268.9 393.7)"/>
<ellipse cx="308.9" cy="427.7" rx="4.4" ry="6.8" fill="#1e6a36" transform="rotate(20.0 308.9 427.7)"/>
<ellipse cx="127.4" cy="427.4" rx="5.8" ry="3.0" fill="#1a5e30" transform="rotate(48.0 127.4 427.4)"/>
<ellipse cx="164.7" cy="440.1" rx="5.8" ry="3.0" fill="#1a5e30" transform="rotate(48.0 164.7 440.1)"/>
<ellipse cx="202.0" cy="452.8" rx="5.8" ry="3.0" fill="#1a5e30" transform="rotate(48.0 202.0 452.8)"/>
<ellipse cx="239.3" cy="465.5" rx="5.8" ry="3.0" fill="#1a5e30" transform="rotate(48.0 239.3 465.5)"/>
<ellipse cx="164.7" cy="463.3" rx="5.8" ry="3.0" fill="#1a5e30" transform="rotate(48.0 164.7 463.3)"/>
<ellipse cx="202.0" cy="476.0" rx="5.8" ry="3.0" fill="#1a5e30" transform="rotate(48.0 202.0 476.0)"/>
<ellipse cx="239.3" cy="488.7" rx="5.8" ry="3.0" fill="#1a5e30" transform="rotate(48.0 239.3 488.7)"/>
<ellipse cx="202.0" cy="499.2" rx="5.8" ry="3.0" fill="#1a5e30" transform="rotate(48.0 202.0 499.2)"/>
<ellipse cx="239.3" cy="511.9" rx="5.8" ry="3.0" fill="#1a5e30" transform="rotate(48.0 239.3 511.9)"/>
<ellipse cx="239.3" cy="535.1" rx="5.8" ry="3.0" fill="#1a5e30" transform="rotate(48.0 239.3 535.1)"/>
<ellipse cx="239.3" cy="558.3" rx="5.8" ry="3.0" fill="#1a5e30" transform="rotate(48.0 239.3 558.3)"/>
<ellipse cx="283.2" cy="462.9" rx="6.0" ry="3.8" fill="#1a5e30" transform="rotate(-32.0 283.2 462.9)"/>
<ellipse cx="338.7" cy="454.7" rx="6.0" ry="3.8" fill="#1a5e30" transform="rotate(-32.0 338.7 454.7)"/>
<ellipse cx="394.2" cy="446.5" rx="6.0" ry="3.8" fill="#1a5e30" transform="rotate(-32.0 394.2 446.5)"/>
<ellipse cx="449.7" cy="438.3" rx="6.0" ry="3.8" fill="#1a5e30" transform="rotate(-32.0 449.7 438.3)"/>
<ellipse cx="298.7" cy="486.6" rx="6.0" ry="3.8" fill="#1a5e30" transform="rotate(-32.0 298.7 486.6)"/>
<ellipse cx="354.2" cy="478.4" rx="6.0" ry="3.8" fill="#1a5e30" transform="rotate(-32.0 354.2 478.4)"/>
<ellipse cx="409.7" cy="470.2" rx="6.0" ry="3.8" fill="#1a5e30" transform="rotate(-32.0 409.7 470.2)"/>
<ellipse cx="314.2" cy="510.3" rx="6.0" ry="3.8" fill="#1a5e30" transform="rotate(-32.0 314.2 510.3)"/>
<ellipse cx="369.7" cy="502.1" rx="6.0" ry="3.8" fill="#1a5e30" transform="rotate(-32.0 369.7 502.1)"/>
<ellipse cx="274.2" cy="542.2" rx="6.0" ry="3.8" fill="#1a5e30" transform="rotate(-32.0 274.2 542.2)"/>
<ellipse cx="329.7" cy="534.0" rx="6.0" ry="3.8" fill="#1a5e30" transform="rotate(-32.0 329.7 534.0)"/>
<ellipse cx="289.7" cy="565.9" rx="6.0" ry="3.8" fill="#1a5e30" transform="rotate(-32.0 289.7 565.9)"/>
</g>
<circle cx="127.3" cy="820.8" r="3.5" fill="#1f8a3e" />
<circle cx="127.0" cy="834.7" r="3.5" fill="#1f8a3e" />
<circle cx="127.3" cy="848.6" r="3.5" fill="#1f8a3e" />
<circle cx="128.6" cy="862.4" r="3.5" fill="#1f8a3e" />
<circle cx="131.5" cy="876.3" r="3.5" fill="#1f8a3e" />
<circle cx="137.2" cy="889.0" r="3.5" fill="#1f8a3e" />
<circle cx="146.9" cy="899.2" r="3.5" fill="#1f8a3e" />
<circle cx="158.8" cy="906.2" r="3.5" fill="#1f8a3e" />
<circle cx="171.5" cy="912.2" r="3.5" fill="#1f8a3e" />
<polygon points="192.2,922.0 173.5,900.8 176.0,914.0 162.9,922.9" fill="#1c7632" />
<circle cx="449.5" cy="878.0" r="150.5" fill="url(#greencirc)" stroke="#6cc070" stroke-width="3"/>
<ellipse cx="441.0" cy="1013.0" rx="30" ry="6" fill="url(#shadow)"/>
<polygon points="472.7,866.0 466.8,878.8 454.0,884.7 441.2,878.8 435.3,866.0 441.2,853.2 454.0,847.3 466.8,853.2" fill="url(#ball)" stroke="#5d7896" stroke-width="1"/>
<ellipse cx="448.4" cy="857.6" rx="6.0" ry="2.8" fill="#bfe0ff" opacity="0.3" transform="rotate(-35 448.4 857.6)"/>
<line x1="433.0" y1="761.0" x2="451.1" y2="851.7" stroke="#d2a54c" stroke-width="5.0" stroke-linecap="round"/>
<line x1="433.0" y1="761.0" x2="451.1" y2="851.7" stroke="#efc263" stroke-width="2.8" stroke-linecap="round"/>
<line x1="324.0" y1="875.0" x2="439.4" y2="867.0" stroke="#d2a54c" stroke-width="5.0" stroke-linecap="round"/>
<line x1="324.0" y1="875.0" x2="439.4" y2="867.0" stroke="#efc263" stroke-width="2.8" stroke-linecap="round"/>
<line x1="468.4" y1="868.4" x2="550.0" y2="882.0" stroke="#d2a54c" stroke-width="5.0" stroke-linecap="round"/>
<line x1="468.4" y1="868.4" x2="550.0" y2="882.0" stroke="#efc263" stroke-width="2.8" stroke-linecap="round"/>
<line x1="433.0" y1="991.0" x2="451.6" y2="880.4" stroke="#d2a54c" stroke-width="5.0" stroke-linecap="round"/>
<line x1="433.0" y1="991.0" x2="451.6" y2="880.4" stroke="#efc263" stroke-width="2.8" stroke-linecap="round"/>
<line x1="433.0" y1="761.0" x2="324.0" y2="875.0" stroke="#d2a54c" stroke-width="5.0" stroke-linecap="round"/>
<line x1="433.0" y1="761.0" x2="324.0" y2="875.0" stroke="#efc263" stroke-width="2.8" stroke-linecap="round"/>
<line x1="433.0" y1="761.0" x2="406.0" y2="892.0" stroke="#d2a54c" stroke-width="5.0" stroke-linecap="round"/>
<line x1="433.0" y1="761.0" x2="406.0" y2="892.0" stroke="#efc263" stroke-width="2.8" stroke-linecap="round"/>
<line x1="433.0" y1="761.0" x2="550.0" y2="882.0" stroke="#d2a54c" stroke-width="5.0" stroke-linecap="round"/>
<line x1="433.0" y1="761.0" x2="550.0" y2="882.0" stroke="#efc263" stroke-width="2.8" stroke-linecap="round"/>
<line x1="324.0" y1="875.0" x2="406.0" y2="892.0" stroke="#d2a54c" stroke-width="5.0" stroke-linecap="round"/>
<line x1="324.0" y1="875.0" x2="406.0" y2="892.0" stroke="#efc263" stroke-width="2.8" stroke-linecap="round"/>
<line x1="406.0" y1="892.0" x2="550.0" y2="882.0" stroke="#d2a54c" stroke-width="5.0" stroke-linecap="round"/>
<line x1="406.0" y1="892.0" x2="550.0" y2="882.0" stroke="#efc263" stroke-width="2.8" stroke-linecap="round"/>
<line x1="433.0" y1="991.0" x2="324.0" y2="875.0" stroke="#d2a54c" stroke-width="5.0" stroke-linecap="round"/>
<line x1="433.0" y1="991.0" x2="324.0" y2="875.0" stroke="#efc263" stroke-width="2.8" stroke-linecap="round"/>
<line x1="433.0" y1="991.0" x2="406.0" y2="892.0" stroke="#d2a54c" stroke-width="5.0" stroke-linecap="round"/>
<line x1="433.0" y1="991.0" x2="406.0" y2="892.0" stroke="#efc263" stroke-width="2.8" stroke-linecap="round"/>
<line x1="433.0" y1="991.0" x2="550.0" y2="882.0" stroke="#d2a54c" stroke-width="5.0" stroke-linecap="round"/>
<line x1="433.0" y1="991.0" x2="550.0" y2="882.0" stroke="#efc263" stroke-width="2.8" stroke-linecap="round"/>
<path d="M468.0,798.0 L488.0,802.0 L509.0,823.0 L510.0,839.0 L490.0,838.0 L467.0,816.0 Z" fill="none" stroke="#d2a54c" stroke-width="5.0" stroke-linejoin="round"/>
<path d="M468.0,798.0 L488.0,802.0 L509.0,823.0 L510.0,839.0 L490.0,838.0 L467.0,816.0 Z" fill="none" stroke="#efc263" stroke-width="2.8" stroke-linejoin="round"/>
<polygon points="344.7,875.0 338.2,889.2 324.0,895.7 309.8,889.2 303.3,875.0 309.8,860.8 324.0,854.3 338.2,860.8" fill="url(#ball)" stroke="#5d7896" stroke-width="1"/>
<ellipse cx="317.8" cy="865.7" rx="6.6" ry="3.1" fill="#bfe0ff" opacity="0.3" transform="rotate(-35 317.8 865.7)"/>
<polygon points="455.5,761.0 448.4,776.4 433.0,783.5 417.6,776.4 410.5,761.0 417.6,745.6 433.0,738.5 448.4,745.6" fill="url(#ball)" stroke="#5d7896" stroke-width="1"/>
<ellipse cx="426.2" cy="750.9" rx="7.2" ry="3.4" fill="#bfe0ff" opacity="0.3" transform="rotate(-35 426.2 750.9)"/>
<polygon points="572.0,882.0 565.1,897.1 550.0,904.0 534.9,897.1 528.0,882.0 534.9,866.9 550.0,860.0 565.1,866.9" fill="url(#ball)" stroke="#5d7896" stroke-width="1"/>
<ellipse cx="543.4" cy="872.1" rx="7.0" ry="3.3" fill="#bfe0ff" opacity="0.3" transform="rotate(-35 543.4 872.1)"/>
<polygon points="455.0,991.0 448.1,1006.1 433.0,1013.0 417.9,1006.1 411.0,991.0 417.9,975.9 433.0,969.0 448.1,975.9" fill="url(#ball)" stroke="#5d7896" stroke-width="1"/>
<ellipse cx="426.4" cy="981.1" rx="7.0" ry="3.3" fill="#bfe0ff" opacity="0.3" transform="rotate(-35 426.4 981.1)"/>
<polygon points="431.5,892.0 423.5,909.5 406.0,917.5 388.5,909.5 380.5,892.0 388.5,874.5 406.0,866.5 423.5,874.5" fill="url(#ball)" stroke="#5d7896" stroke-width="1"/>
<ellipse cx="398.4" cy="880.5" rx="8.2" ry="3.8" fill="#bfe0ff" opacity="0.3" transform="rotate(-35 398.4 880.5)"/>
<path d="M489.8,800.6 C496,796 504,790 509.5,788.5 C508,795 503,803 502,809 C502,814 509,815 515.7,809.6 C519,806 521,798 524,795.5 C527,793 530,796 531,791 C531.5,786 532,780 536.5,775.8 C540,774 546,775 551.5,772.8" fill="none" stroke="#2fb873" stroke-width="2.6" stroke-linecap="round" stroke-linejoin="round"/>
<circle cx="493.8" cy="771.8" r="3.9" fill="#000" />
<circle cx="506.9" cy="762.9" r="3.9" fill="#000" />
<circle cx="522.8" cy="759.9" r="3.9" fill="#000" />
<circle cx="538.7" cy="762.7" r="3.9" fill="#000" />
<circle cx="551.9" cy="771.3" r="3.9" fill="#000" />
<circle cx="559.2" cy="785.2" r="3.9" fill="#000" />
<circle cx="556.4" cy="801.6" r="3.9" fill="#000" />
<circle cx="546.0" cy="812.4" r="3.9" fill="#000" />
<circle cx="531.1" cy="818.0" r="3.9" fill="#000" />
<circle cx="515.2" cy="818.3" r="3.9" fill="#000" />
<circle cx="500.3" cy="812.6" r="3.9" fill="#000" />
<circle cx="489.3" cy="801.1" r="3.9" fill="#000" />
<circle cx="486.6" cy="785.7" r="3.9" fill="#000" />
<circle cx="570.1" cy="810.1" r="3.9" fill="#000" />
<circle cx="585.4" cy="815.2" r="3.9" fill="#000" />
<circle cx="601.2" cy="818.0" r="3.9" fill="#000" />
<circle cx="617.1" cy="816.3" r="3.9" fill="#000" />
<circle cx="631.0" cy="808.8" r="3.9" fill="#000" />
<circle cx="640.7" cy="796.2" r="3.9" fill="#000" />
<polygon points="649.4,757.9 658.6,791.7 647.9,781.7 629.5,786.5" fill="#000" />
<circle cx="499.8" cy="853.8" r="7.0" fill="#000" />
<circle cx="516.7" cy="853.8" r="3.9" fill="#000" />
<circle cx="532.7" cy="853.8" r="3.9" fill="#000" />
<circle cx="548.7" cy="853.8" r="3.9" fill="#000" />
<circle cx="564.7" cy="853.8" r="3.9" fill="#000" />
<circle cx="580.7" cy="853.8" r="3.9" fill="#000" />
<circle cx="596.7" cy="853.8" r="3.9" fill="#000" />
<circle cx="612.7" cy="853.8" r="3.9" fill="#000" />
<circle cx="628.7" cy="853.8" r="3.9" fill="#000" />
<circle cx="644.7" cy="853.8" r="3.9" fill="#000" />
<polygon points="676.7,852.5 636.4,836.4 644.9,853.3 637.9,872.2" fill="#000" />
<text transform="matrix(1 0 0 1.020 0 -14.95)" x="50.4" y="747.3" font-size="49.7" font-weight="normal" font-style="italic" fill="#000" text-anchor="start" >Surface</text>
<text transform="matrix(1 0 0 1.020 0 -16.02)" x="29.8" y="801.2" font-size="49.5" font-weight="normal" font-style="italic" fill="#000" text-anchor="start" >modifying</text>
<text transform="matrix(1 0 0 1.020 0 -14.89)" x="633.2" y="744.5" font-size="50.0" font-weight="bold" font-style="italic" fill="#000" text-anchor="start" >L</text>
<text transform="matrix(1 0 0 1.020 0 -15.16)" x="658.9" y="758.2" font-size="29.0" font-weight="normal" font-style="normal" fill="#000" text-anchor="start" >3</text>
<text transform="matrix(1 0 0 1.020 0 -26.08)" x="188.6" y="1304.1" font-size="52.8" fill="#000">UiO-66-<tspan font-style="italic">L</tspan><tspan font-size="30" dy="14">3</tspan></text>
<line x1="748.8" y1="889.0" x2="696.4" y2="919.2" stroke="#000" stroke-width="3.2" />
<line x1="744.6" y1="902.3" x2="710.0" y2="922.2" stroke="#000" stroke-width="3.2" />
<line x1="748.8" y1="889.0" x2="801.2" y2="919.2" stroke="#000" stroke-width="3.2" />
<line x1="801.2" y1="919.2" x2="801.2" y2="979.8" stroke="#000" stroke-width="3.2" />
<line x1="791.8" y1="929.5" x2="791.8" y2="969.5" stroke="#000" stroke-width="3.2" />
<line x1="801.2" y1="979.8" x2="748.8" y2="1010.0" stroke="#000" stroke-width="3.2" />
<line x1="748.8" y1="1010.0" x2="696.4" y2="979.8" stroke="#000" stroke-width="3.2" />
<line x1="744.6" y1="996.7" x2="710.0" y2="976.8" stroke="#000" stroke-width="3.2" />
<line x1="696.4" y1="979.8" x2="696.4" y2="919.2" stroke="#000" stroke-width="3.2" />
<line x1="748.8" y1="889.0" x2="748.8" y2="828.5" stroke="#000" stroke-width="3.2" />
<line x1="746.6" y1="832.3" x2="707.2" y2="809.6" stroke="#000" stroke-width="3.2" />
<line x1="751.0" y1="824.7" x2="711.6" y2="801.9" stroke="#000" stroke-width="3.2" />
<line x1="748.8" y1="828.5" x2="786.5" y2="806.8" stroke="#000" stroke-width="3.2" />
<text transform="matrix(1 0 0 1.020 0 -16.25)" x="696.4" y="812.6" font-size="37.0" font-weight="normal" font-style="normal" fill="#d00000" text-anchor="middle" >O</text>
<text transform="matrix(1 0 0 1.020 0 -16.25)" x="801.2" y="812.6" font-size="37.0" font-weight="normal" font-style="normal" fill="#d00000" text-anchor="middle" >O</text>
<line x1="748.8" y1="1010.0" x2="748.8" y2="1070.5" stroke="#000" stroke-width="3.2" />
<line x1="748.8" y1="1070.5" x2="711.1" y2="1092.2" stroke="#000" stroke-width="3.2" />
<line x1="751.0" y1="1066.7" x2="790.4" y2="1089.4" stroke="#000" stroke-width="3.2" />
<line x1="746.6" y1="1074.3" x2="786.0" y2="1097.1" stroke="#000" stroke-width="3.2" />
<text transform="matrix(1 0 0 1.020 0 -22.30)" x="696.4" y="1115.1" font-size="37.0" font-weight="normal" font-style="normal" fill="#d00000" text-anchor="middle" >O</text>
<text transform="matrix(1 0 0 1.020 0 -22.30)" x="801.2" y="1115.1" font-size="37.0" font-weight="normal" font-style="normal" fill="#d00000" text-anchor="middle" >O</text>
<line x1="801.2" y1="919.2" x2="838.0" y2="898.0" stroke="#000" stroke-width="3.2" />
<text transform="matrix(1 0 0 1.020 0 -18.07)" x="853.6" y="903.3" font-size="37.0" font-weight="normal" font-style="normal" fill="#1a80f0" text-anchor="middle" >N</text>
<text transform="matrix(1 0 0 1.020 0 -17.46)" x="853.6" y="872.8" font-size="37.0" font-weight="normal" font-style="normal" fill="#000" text-anchor="middle" >H</text>
<line x1="869.2" y1="898.0" x2="906.0" y2="919.2" stroke="#000" stroke-width="3.2" />
<line x1="910.4" y1="919.2" x2="910.4" y2="963.8" stroke="#000" stroke-width="3.2" />
<line x1="901.6" y1="919.2" x2="901.6" y2="963.8" stroke="#000" stroke-width="3.2" />
<text transform="matrix(1 0 0 1.020 0 -19.88)" x="906.0" y="994.1" font-size="37.0" font-weight="normal" font-style="normal" fill="#d00000" text-anchor="middle" >O</text>
<line x1="906.0" y1="919.2" x2="958.4" y2="889.0" stroke="#000" stroke-width="3.2" />
<line x1="958.4" y1="889.0" x2="906.0" y2="858.8" stroke="#000" stroke-width="3.2" />
<line x1="958.4" y1="889.0" x2="958.4" y2="949.5" stroke="#000" stroke-width="3.2" />
<line x1="958.4" y1="888.8" x2="1003.1" y2="888.8" stroke="#000" stroke-width="3.2" />
<path d="M984,862.4 L980.1,862.4 L980.1,915.2 L984,915.2" fill="none" stroke="#000" stroke-width="2.6" />
<text transform="matrix(1 0 0 1.020 0 -18.12)" x="1019.7" y="906.1" font-size="37.0" font-weight="normal" font-style="normal" fill="#000" text-anchor="middle" >C</text>
<text transform="matrix(1 0 0 1.020 0 -17.30)" x="1006.9" y="864.9" font-size="36.0" font-weight="normal" font-style="normal" fill="#000" text-anchor="start" >H</text>
<text transform="matrix(1 0 0 1.020 0 -17.44)" x="1032.5" y="871.8" font-size="25.0" font-weight="normal" font-style="normal" fill="#000" text-anchor="start" >2</text>
<line x1="1050.8" y1="888.8" x2="1063.6" y2="888.8" stroke="#000" stroke-width="3.2" />
<text transform="matrix(1 0 0 1.020 0 -18.12)" x="1080.2" y="906.1" font-size="37.0" font-weight="normal" font-style="normal" fill="#000" text-anchor="middle" >C</text>
<text transform="matrix(1 0 0 1.020 0 -16.87)" x="1067.6" y="843.6" font-size="36.0" font-weight="normal" font-style="normal" fill="#000" text-anchor="start" >CH</text>
<text transform="matrix(1 0 0 1.020 0 -16.98)" x="1120.3" y="848.8" font-size="25.0" font-weight="normal" font-style="normal" fill="#000" text-anchor="start" >3</text>
<line x1="1080.6" y1="847.9" x2="1080.6" y2="872.6" stroke="#000" stroke-width="3.2" />
<line x1="1096.6" y1="888.4" x2="1140.9" y2="888.4" stroke="#000" stroke-width="3.2" />
<path d="M1116.6,862.4 L1120.5,862.4 L1120.5,915.2 L1116.6,915.2" fill="none" stroke="#000" stroke-width="2.6" />
<text transform="matrix(1 0 0 1.020 0 -18.44)" x="1128.1" y="922.0" font-size="25.0" font-weight="normal" font-style="normal" fill="#000" text-anchor="start" >n</text>
<line x1="1080.6" y1="907.5" x2="1080.6" y2="949.3" stroke="#000" stroke-width="3.2" />
<line x1="1082.8" y1="953.1" x2="1044.3" y2="975.4" stroke="#000" stroke-width="3.2" />
<line x1="1078.4" y1="945.5" x2="1039.8" y2="967.8" stroke="#000" stroke-width="3.2" />
<text transform="matrix(1 0 0 1.020 0 -19.88)" x="1028.2" y="993.9" font-size="37.0" font-weight="normal" font-style="normal" fill="#d00000" text-anchor="middle" >O</text>
<line x1="1080.6" y1="949.3" x2="1118.3" y2="971.1" stroke="#000" stroke-width="3.2" />
<text transform="matrix(1 0 0 1.020 0 -19.88)" x="1133.0" y="993.9" font-size="37.0" font-weight="normal" font-style="normal" fill="#d00000" text-anchor="middle" >O</text>
<line x1="1147.7" y1="971.1" x2="1185.4" y2="949.3" stroke="#000" stroke-width="3.2" />
<line x1="1185.4" y1="949.3" x2="1237.8" y2="979.6" stroke="#000" stroke-width="3.2" />
<line x1="1237.8" y1="979.6" x2="1273.8" y2="958.8" stroke="#000" stroke-width="3.2" />
<text transform="matrix(1 0 0 1.020 0 -19.27)" x="1290.8" y="963.6" font-size="37.0" font-weight="normal" font-style="normal" fill="#1a80f0" text-anchor="middle" >N</text>
<text transform="matrix(1 0 0 1.020 0 -18.92)" x="1304.5" y="945.8" font-size="27.0" font-weight="normal" font-style="normal" fill="#1a80f0" text-anchor="start" >+</text>
<line x1="1290.8" y1="888.8" x2="1290.8" y2="933.9" stroke="#000" stroke-width="3.2" />
<line x1="1290.8" y1="968.0" x2="1290.8" y2="1009.7" stroke="#000" stroke-width="3.2" />
<line x1="1322.3" y1="949.2" x2="1351.2" y2="949.2" stroke="#000" stroke-width="3.2" />
<text transform="matrix(1 0 0 1.020 0 -18.22)" x="1306.1" y="911.0" font-size="50.0" font-weight="normal" font-style="normal" fill="#000" text-anchor="start" >Cl</text>
<line x1="1354.6" y1="888.0" x2="1361.4" y2="888.0" stroke="#000" stroke-width="2.2" />
<path d="M826.04,805.94 A8.0,8.0 0 0 1 831.70,803.60 L1356.80,803.60 A8.0,8.0 0 0 1 1362.46,805.94" fill="none" stroke="#2a8a12" stroke-width="3.2" stroke-dasharray="12.95 11.49" stroke-dashoffset="6.48"/>
<path d="M1362.46,805.94 A8.0,8.0 0 0 1 1364.80,811.60 L1364.80,1009.40 A8.0,8.0 0 0 1 1362.46,1015.06" fill="none" stroke="#2a8a12" stroke-width="3.2" stroke-dasharray="12.39 10.99" stroke-dashoffset="6.19"/>
<path d="M1362.46,1015.06 A8.0,8.0 0 0 1 1356.80,1017.40 L831.70,1017.40 A8.0,8.0 0 0 1 826.04,1015.06" fill="none" stroke="#2a8a12" stroke-width="3.2" stroke-dasharray="12.95 11.49" stroke-dashoffset="6.48"/>
<path d="M826.04,1015.06 A8.0,8.0 0 0 1 823.70,1009.40 L823.70,811.60 A8.0,8.0 0 0 1 826.04,805.94" fill="none" stroke="#2a8a12" stroke-width="3.2" stroke-dasharray="12.39 10.99" stroke-dashoffset="6.19"/>
<text transform="matrix(1 0 0 1.020 0 -15.52)" x="916.9" y="776" font-size="49.5" font-weight="bold" font-style="italic" fill="#000">L<tspan font-weight="normal" font-style="normal" font-size="29" dy="16">3</tspan><tspan dy="-16">: PAOQ motif</tspan></text>
<text transform="matrix(1 0 0 1.020 0 -22.10)" x="866.0" y="1105" font-size="50" fill="#4fa463">UiO-66-<tspan font-style="italic">L</tspan><tspan font-size="29" dy="16">3</tspan></text>
<polygon points="1110.3,1024.2 1141.6,1074.0 1121.7,1074.0 1121.7,1125.0 1141.6,1125.0 1110.3,1174.3 1078.3,1125.0 1098.6,1125.0 1098.6,1074.0 1078.3,1074.0" fill="#90d0a1" />
<path d="M996.0,1212.0 L986.7,1220.0" fill="none" stroke="#7cc493" stroke-width="7.5" />
<path d="M996.0,1212.0 L986.7,1220.0" fill="none" stroke="#95d6a9" stroke-width="5.0" />
<path d="M1061.0,1219.0 L1052.0,1204.0" fill="none" stroke="#7cc493" stroke-width="7.5" />
<path d="M1061.0,1219.0 L1052.0,1204.0" fill="none" stroke="#95d6a9" stroke-width="5.0" />
<path d="M1120.5,1187.0 L1120.5,1203.0" fill="none" stroke="#7cc493" stroke-width="7.5" />
<path d="M1120.5,1187.0 L1120.5,1203.0" fill="none" stroke="#95d6a9" stroke-width="5.0" />
<path d="M1178.0,1218.0 L1189.0,1202.0" fill="none" stroke="#7cc493" stroke-width="7.5" />
<path d="M1178.0,1218.0 L1189.0,1202.0" fill="none" stroke="#95d6a9" stroke-width="5.0" />
<path d="M1237.0,1225.0 L1246.5,1240.0" fill="none" stroke="#7cc493" stroke-width="7.5" />
<path d="M1237.0,1225.0 L1246.5,1240.0" fill="none" stroke="#95d6a9" stroke-width="5.0" />
<path d="M912,1193 C928,1178 945,1170 958,1176 C975,1185 985,1200 998,1213 C1012,1228 1030,1236 1050,1226 C1068,1218 1090,1190 1118,1187 C1140,1186 1160,1203 1178,1218 C1195,1232 1215,1234 1240,1224 C1255,1218 1268,1211 1280,1205" fill="none" stroke="#4a8a5b" stroke-width="9.0" stroke-linecap="round" stroke-linejoin="round"/>
<path d="M912,1193 C928,1178 945,1170 958,1176 C975,1185 985,1200 998,1213 C1012,1228 1030,1236 1050,1226 C1068,1218 1090,1190 1118,1187 C1140,1186 1160,1203 1178,1218 C1195,1232 1215,1234 1240,1224 C1255,1218 1268,1211 1280,1205" fill="none" stroke="#7fc595" stroke-width="6.5" stroke-linecap="round" stroke-linejoin="round" transform="translate(0,-0.8)"/>
<path d="M912,1193 C928,1178 945,1170 958,1176 C975,1185 985,1200 998,1213 C1012,1228 1030,1236 1050,1226 C1068,1218 1090,1190 1118,1187 C1140,1186 1160,1203 1178,1218 C1195,1232 1215,1234 1240,1224 C1255,1218 1268,1211 1280,1205" fill="none" stroke="#a3dfb5" stroke-width="4.0" stroke-linecap="round" stroke-linejoin="round" transform="translate(0,-1.6)"/>
<circle cx="891.9" cy="1220.5" r="37.8" fill="#cf474a" />
<text transform="matrix(1 0 0 1.020 0 -24.72)" x="891.9" y="1236.0" font-size="43.0" font-weight="normal" font-style="normal" fill="#fff" text-anchor="middle" >NH</text>
<circle cx="964.2" cy="1245.0" r="34.2" fill="#cf474a" />
<text transform="matrix(1 0 0 1.020 0 -25.21)" x="957.7" y="1260.5" font-size="43.0" font-weight="normal" font-style="normal" fill="#fff" text-anchor="middle" >N</text>
<text transform="matrix(1 0 0 1.020 0 -24.94)" x="978.7" y="1247.0" font-size="26.0" font-weight="normal" font-style="normal" fill="#fff" text-anchor="middle" >+</text>
<circle cx="1032.0" cy="1176.0" r="34.3" fill="#cf474a" />
<text transform="matrix(1 0 0 1.020 0 -23.83)" x="1025.5" y="1191.5" font-size="43.0" font-weight="normal" font-style="normal" fill="#fff" text-anchor="middle" >N</text>
<text transform="matrix(1 0 0 1.020 0 -23.56)" x="1046.5" y="1178.0" font-size="26.0" font-weight="normal" font-style="normal" fill="#fff" text-anchor="middle" >+</text>
<circle cx="1118.9" cy="1236.7" r="34.2" fill="#cf474a" />
<text transform="matrix(1 0 0 1.020 0 -25.04)" x="1112.4" y="1252.2" font-size="43.0" font-weight="normal" font-style="normal" fill="#fff" text-anchor="middle" >N</text>
<text transform="matrix(1 0 0 1.020 0 -24.77)" x="1133.4" y="1238.7" font-size="26.0" font-weight="normal" font-style="normal" fill="#fff" text-anchor="middle" >+</text>
<circle cx="1205.4" cy="1172.3" r="34.2" fill="#cf474a" />
<text transform="matrix(1 0 0 1.020 0 -23.76)" x="1198.9" y="1187.8" font-size="43.0" font-weight="normal" font-style="normal" fill="#fff" text-anchor="middle" >N</text>
<text transform="matrix(1 0 0 1.020 0 -23.49)" x="1219.9" y="1174.3" font-size="26.0" font-weight="normal" font-style="normal" fill="#fff" text-anchor="middle" >+</text>
<circle cx="1305.6" cy="1191.0" r="34.2" fill="#cf474a" />
<text transform="matrix(1 0 0 1.020 0 -24.13)" x="1299.1" y="1206.5" font-size="43.0" font-weight="normal" font-style="normal" fill="#fff" text-anchor="middle" >N</text>
<text transform="matrix(1 0 0 1.020 0 -23.86)" x="1320.1" y="1193.0" font-size="26.0" font-weight="normal" font-style="normal" fill="#fff" text-anchor="middle" >+</text>
<circle cx="1258.0" cy="1270.9" r="34.2" fill="#cf474a" />
<text transform="matrix(1 0 0 1.020 0 -25.73)" x="1251.5" y="1286.4" font-size="43.0" font-weight="normal" font-style="normal" fill="#fff" text-anchor="middle" >N</text>
<text transform="matrix(1 0 0 1.020 0 -25.46)" x="1272.5" y="1272.9" font-size="26.0" font-weight="normal" font-style="normal" fill="#fff" text-anchor="middle" >+</text>
<path d="M1504.0,796.6 C1504.2,793.3 1503.0,783.6 1504.9,776.7 C1506.8,769.8 1510.9,761.8 1515.6,755.3 C1520.3,748.8 1525.9,743.5 1533.3,737.6 C1540.7,731.7 1551.1,724.7 1560.0,719.8 C1568.9,714.9 1576.3,711.3 1586.7,708.2 C1597.1,705.1 1610.4,702.0 1622.2,701.1 C1634.0,700.2 1647.4,701.0 1657.8,702.9 C1668.2,704.8 1676.1,708.7 1684.4,712.7 C1692.7,716.7 1701.4,723.4 1707.6,726.9 C1713.8,730.4 1719.4,732.8 1721.8,734.0 C1723.0,732.2 1723.3,728.0 1728.9,723.3 C1734.5,718.6 1745.2,710.6 1755.6,705.6 C1766.0,700.6 1779.2,696.2 1791.1,693.1 C1802.9,690.0 1816.3,687.8 1826.7,686.9 C1837.1,686.0 1843.5,687.1 1853.3,687.8 C1863.1,688.5 1874.3,688.0 1885.6,691.3 C1896.9,694.5 1910.7,701.1 1921.1,707.3 C1931.5,713.5 1940.7,719.8 1947.8,728.7 C1954.9,737.6 1961.1,755.4 1963.8,760.7 C1965.6,757.4 1968.2,746.2 1974.4,741.1 C1980.6,736.0 1990.7,732.9 2001.1,730.4 C2011.5,727.9 2024.9,726.3 2036.7,726.0 C2048.6,725.7 2060.3,726.2 2072.2,728.7 C2084.0,731.2 2096.0,735.5 2107.8,741.1 C2119.7,746.7 2133.5,754.1 2143.3,762.4 C2153.1,770.7 2161.1,782.6 2166.4,790.9 C2171.7,799.2 2173.8,805.7 2175.3,812.2 C2176.8,818.7 2176.2,823.8 2175.3,830.0 C2174.4,836.2 2171.2,844.6 2170.0,849.6 C2168.8,854.6 2168.5,858.4 2168.2,860.2 C2170.0,860.2 2174.2,859.6 2178.9,860.2 C2183.7,860.8 2190.8,861.7 2196.7,863.8 C2202.6,865.9 2208.5,868.6 2214.4,872.7 C2220.3,876.9 2227.8,882.0 2232.2,888.7 C2236.6,895.5 2237.8,900.8 2240.6,913.2 C2243.4,925.6 2248.4,949.2 2248.9,963.0 C2249.4,976.8 2247.1,985.1 2243.4,996.2 C2239.7,1007.3 2234.2,1019.4 2226.8,1029.5 C2219.4,1039.7 2208.3,1050.2 2199.1,1057.1 C2189.9,1064.0 2179.2,1068.2 2171.4,1071.0 C2163.6,1073.8 2155.2,1073.2 2152.0,1073.7 C2152.7,1078.3 2156.6,1092.2 2156.2,1101.4 C2155.8,1110.6 2154.2,1119.9 2149.3,1129.1 C2144.5,1138.3 2137.2,1148.0 2127.1,1156.8 C2116.9,1165.6 2102.2,1175.5 2088.4,1181.7 C2074.6,1187.9 2057.9,1192.7 2044.1,1194.1 C2030.3,1195.5 2015.2,1192.2 2005.4,1190.0 C1995.6,1187.8 1988.8,1182.5 1985.5,1181.0 C1984.4,1185.3 1985.2,1198.2 1978.7,1206.7 C1972.2,1215.2 1960.9,1224.5 1946.7,1232.3 C1932.5,1240.1 1911.1,1249.2 1893.3,1253.6 C1875.5,1258.0 1857.8,1260.3 1840.0,1258.9 C1822.2,1257.5 1800.9,1251.0 1786.7,1245.1 C1772.5,1239.2 1762.9,1231.3 1754.7,1223.7 C1746.5,1216.1 1740.4,1203.3 1737.6,1199.2 C1736.5,1201.2 1735.5,1206.5 1731.2,1210.9 C1726.9,1215.4 1722.3,1222.3 1712.0,1225.9 C1701.7,1229.5 1685.3,1233.0 1669.3,1232.3 C1653.3,1231.6 1632.0,1226.9 1616.0,1221.6 C1600.0,1216.3 1585.0,1208.5 1573.3,1200.3 C1561.6,1192.1 1551.6,1181.4 1545.6,1172.5 C1539.6,1163.6 1538.3,1154.2 1537.1,1146.9 C1535.8,1139.6 1537.9,1131.8 1538.1,1128.8 C1534.8,1129.1 1528.3,1132.1 1518.3,1130.6 C1508.3,1129.1 1491.4,1125.6 1477.9,1119.8 C1464.4,1114.0 1449.1,1104.9 1437.4,1095.5 C1425.7,1086.1 1414.3,1074.4 1407.8,1063.2 C1401.3,1052.0 1399.2,1039.3 1398.3,1028.1 C1397.4,1016.9 1399.0,1005.2 1402.4,995.8 C1405.8,986.4 1415.8,975.5 1418.5,971.5 C1414.9,967.5 1402.6,956.7 1397.0,947.2 C1391.4,937.8 1386.1,925.6 1384.8,914.8 C1383.5,904.0 1384.6,893.7 1388.9,882.5 C1393.2,871.3 1400.2,858.6 1410.5,847.4 C1420.8,836.1 1435.3,823.5 1450.9,815.0 C1466.5,806.5 1495.2,799.7 1504.0,796.6 Z" fill="#f4d2d2" stroke="none" stroke-width="0.0" />
<path d="M1355.0,1127.8 C1355.2,1126.2 1354.3,1120.6 1356.5,1118.1 C1358.7,1115.6 1363.9,1112.8 1368.0,1113.0 C1372.1,1113.2 1379.1,1118.2 1381.3,1119.3 C1382.3,1118.0 1384.8,1113.0 1387.3,1111.5 C1389.8,1110.0 1392.9,1109.6 1396.4,1110.0 C1399.9,1110.4 1405.5,1111.8 1408.4,1113.9 C1411.3,1116.1 1413.0,1121.4 1413.9,1122.9 C1415.5,1122.8 1420.4,1121.1 1423.5,1122.0 C1426.6,1122.9 1430.8,1126.0 1432.6,1128.4 C1434.4,1130.8 1434.6,1133.9 1434.4,1136.2 C1434.2,1138.5 1432.8,1140.6 1431.4,1142.2 C1430.0,1143.8 1426.8,1145.3 1425.9,1145.9 C1426.2,1147.3 1428.0,1151.5 1427.7,1154.3 C1427.4,1157.1 1425.9,1160.7 1424.1,1162.7 C1422.3,1164.7 1419.9,1166.2 1416.9,1166.4 C1413.9,1166.6 1407.8,1164.4 1406.0,1164.0 C1404.9,1165.4 1402.4,1170.7 1399.4,1172.4 C1396.4,1174.2 1391.8,1174.9 1387.9,1174.5 C1384.0,1174.1 1378.6,1171.8 1375.9,1170.0 C1373.2,1168.2 1372.3,1165.0 1371.6,1164.0 C1369.9,1164.7 1364.5,1167.8 1361.4,1168.2 C1358.3,1168.6 1354.8,1168.1 1352.9,1166.4 C1351.0,1164.7 1350.0,1160.5 1349.9,1157.9 C1349.8,1155.3 1351.9,1151.9 1352.3,1150.7 C1351.1,1150.3 1346.9,1150.2 1345.1,1148.3 C1343.3,1146.4 1341.5,1142.2 1341.5,1139.2 C1341.5,1136.2 1342.8,1132.1 1345.1,1130.2 C1347.3,1128.3 1353.3,1128.2 1355.0,1127.8 Z" fill="#f3d1d0" stroke="none" stroke-width="0.0" />
<path d="M1680.5,1286.8 Q1694,1284 1707,1286.8 Z" fill="#f2cccc"/>
<path d="M1569.8,926.3 C1574.5,925.9 1589.9,925.6 1597.8,924.0 C1605.7,922.4 1611.9,920.3 1617.4,916.5 C1622.9,912.7 1626.5,905.7 1631.0,901.4 C1635.5,897.1 1640.6,893.1 1644.6,890.8 C1648.6,888.5 1651.2,887.8 1655.2,887.8 C1659.2,887.8 1664.0,888.5 1668.8,890.8 C1673.6,893.1 1678.6,897.4 1683.9,901.4 C1689.2,905.4 1695.2,912.0 1700.5,915.0 C1705.8,918.0 1710.8,919.5 1715.6,919.5 C1720.4,919.5 1724.9,918.0 1729.2,915.0 C1733.5,912.0 1737.0,906.7 1741.3,901.4 C1745.6,896.1 1750.4,887.7 1754.9,883.2 C1759.4,878.7 1764.5,876.2 1768.5,874.2 C1772.5,872.2 1774.6,871.1 1779.1,871.2 C1783.6,871.3 1789.9,872.4 1795.7,874.9 C1801.5,877.4 1807.9,882.4 1813.9,886.3 C1820.0,890.2 1827.0,895.9 1832.0,898.4 C1837.0,900.9 1839.6,901.4 1844.1,901.4 C1848.6,901.4 1854.4,900.2 1859.2,898.4 C1864.0,896.6 1869.3,893.0 1872.8,890.8 C1876.3,888.6 1878.8,886.0 1880.0,885.0" fill="none" stroke="#7a5a60" stroke-width="9.0" stroke-linecap="round" opacity="0.35" filter="url(#blur2)" transform="translate(0,6)"/>
<path d="M1569.8,926.3 C1574.5,925.9 1589.9,925.6 1597.8,924.0 C1605.7,922.4 1611.9,920.3 1617.4,916.5 C1622.9,912.7 1626.5,905.7 1631.0,901.4 C1635.5,897.1 1640.6,893.1 1644.6,890.8 C1648.6,888.5 1651.2,887.8 1655.2,887.8 C1659.2,887.8 1664.0,888.5 1668.8,890.8 C1673.6,893.1 1678.6,897.4 1683.9,901.4 C1689.2,905.4 1695.2,912.0 1700.5,915.0 C1705.8,918.0 1710.8,919.5 1715.6,919.5 C1720.4,919.5 1724.9,918.0 1729.2,915.0 C1733.5,912.0 1737.0,906.7 1741.3,901.4 C1745.6,896.1 1750.4,887.7 1754.9,883.2 C1759.4,878.7 1764.5,876.2 1768.5,874.2 C1772.5,872.2 1774.6,871.1 1779.1,871.2 C1783.6,871.3 1789.9,872.4 1795.7,874.9 C1801.5,877.4 1807.9,882.4 1813.9,886.3 C1820.0,890.2 1827.0,895.9 1832.0,898.4 C1837.0,900.9 1839.6,901.4 1844.1,901.4 C1848.6,901.4 1854.4,900.2 1859.2,898.4 C1864.0,896.6 1869.3,893.0 1872.8,890.8 C1876.3,888.6 1878.8,886.0 1880.0,885.0" fill="none" stroke="#b27c55" stroke-width="8.0" stroke-linecap="round"/>
<ellipse cx="1916" cy="884" rx="42" ry="40" fill="#6a4a50" opacity="0.3" filter="url(#blur2)"/>
<circle cx="1912.3" cy="874.4" r="39.5" fill="#000" filter="url(#blur1)"/>
<circle cx="1912.3" cy="874.4" r="33.5" fill="url(#minusball)" />
<rect x="1898.3" y="875" width="31" height="10" fill="#fff"/>
<path d="M1499,1024 C1505,1012 1506,1000 1493,985" fill="none" stroke="#4d8c5e" stroke-width="8.0" stroke-linecap="round"/>
<path d="M1499,1024 C1505,1012 1506,1000 1493,985" fill="none" stroke="#93d6a8" stroke-width="5.0" stroke-linecap="round"/>
<path d="M1442,1060 C1460,1048 1480,1036 1500,1028 C1525,1018 1555,1016 1578,1029 C1600,1042 1625,1070 1652,1078 C1680,1084 1705,1060 1725,1040 C1745,1020 1762,1005 1778,1006 C1795,1010 1815,1028 1835,1038" fill="none" stroke="#4d8c5e" stroke-width="8.0" stroke-linecap="round"/>
<path d="M1442,1060 C1460,1048 1480,1036 1500,1028 C1525,1018 1555,1016 1578,1029 C1600,1042 1625,1070 1652,1078 C1680,1084 1705,1060 1725,1040 C1745,1020 1762,1005 1778,1006 C1795,1010 1815,1028 1835,1038" fill="none" stroke="#93d6a8" stroke-width="5.0" stroke-linecap="round" transform="translate(0,-0.8)"/>
<circle cx="1472.3" cy="946.2" r="41.3" fill="#d0474a" />
<rect x="1445.3" y="939.2" width="54" height="14" fill="#fff"/>
<rect x="1465.3" y="919.2" width="14" height="54" fill="#fff"/>
<circle cx="1873.0" cy="1040.7" r="41.3" fill="#d0474a" />
<rect x="1846.0" y="1033.7" width="54" height="14" fill="#fff"/>
<rect x="1866.0" y="1013.7" width="14" height="54" fill="#fff"/>
<polygon points="1602.9,1012.9 1623.4,994.2 1612.7,991.6 1620.3,960.5 1630.9,963.1 1621.3,937.1 1600.8,955.8 1611.5,958.4 1603.9,989.5 1593.3,986.9" fill="#f4d2d2" stroke="#554848" stroke-width="5" stroke-linejoin="miter" stroke-miterlimit="6"/>
<polygon points="1763.8,988.8 1775.9,963.9 1765.1,965.4 1760.5,932.9 1771.4,931.4 1752.8,910.8 1740.7,935.7 1751.5,934.2 1756.1,966.7 1745.2,968.2" fill="#f4d2d2" stroke="#554848" stroke-width="5" stroke-linejoin="miter" stroke-miterlimit="6"/>
<polygon points="1888.4,996.9 1908.7,978.0 1898.0,975.5 1905.2,944.3 1916.0,946.8 1906.1,920.9 1885.8,939.8 1896.5,942.3 1889.3,973.5 1878.5,971.0" fill="#f4d2d2" stroke="#554848" stroke-width="5" stroke-linejoin="miter" stroke-miterlimit="6"/>
<text transform="matrix(1 0 0 1.020 0 -19.02)" x="1982.2" y="951.0" font-size="49.0" font-weight="normal" font-style="normal" fill="#000" text-anchor="start" >synergistic</text>
<text transform="matrix(1 0 0 1.020 0 -20.20)" x="1972.9" y="1010.1" font-size="49.0" font-weight="normal" font-style="normal" fill="#000" text-anchor="start" >interactions</text>
<text transform="matrix(1 0 0 1.020 0 -22.47)" x="1538.5" y="1123.3" font-size="49.0" font-weight="normal" font-style="normal" fill="#000" text-anchor="start" >oligoalkyl</text>
<text transform="matrix(1 0 0 1.020 0 -23.37)" x="1581.4" y="1168.3" font-size="49.0" font-weight="normal" font-style="normal" fill="#000" text-anchor="start" >chain</text>
<line x1="1746.0" y1="1132.0" x2="1815.0" y2="1132.0" stroke="#000" stroke-width="7.3" />
<polygon points="1835.6,1132.0 1812.0,1119.0 1812.0,1145.0" fill="#000" />
<text transform="matrix(1 0 0 1.020 0 -22.30)" x="1776.2" y="1115.1" font-size="46.0" font-weight="normal" font-style="italic" fill="#000" text-anchor="start" >e</text>
<text transform="matrix(1 0 0 1.020 0 -22.77)" x="1843.7" y="1138.7" font-size="49" fill="#000">-N<tspan font-size="30" dy="-17">+</tspan><tspan dy="17">(CH</tspan><tspan font-size="30" dy="15.5">3</tspan><tspan dy="-15.5">)</tspan><tspan font-size="30" dy="15.5">3</tspan></text>
<text transform="matrix(1 0 0 1.020 0 -15.01)" x="1601.1" y="750.6" font-size="48.9" font-weight="bold" font-style="italic" fill="#d2282c" text-anchor="start" >High-performance</text>
<text transform="matrix(1 0 0 1.020 0 -16.11)" x="1525.4" y="805.7" font-size="48.9" font-weight="bold" font-style="italic" fill="#d2282c" text-anchor="start" >long-chain PFAS emoval</text>
<text x="488.8" y="1393" font-size="66.6" font-weight="bold" font-style="italic" fill="#d2282c" transform="rotate(-0.87 489 1393) matrix(1 0 0 1.020 0 -27.86)">Surface-localized oligomeric modification</text>
</svg></body></html>
